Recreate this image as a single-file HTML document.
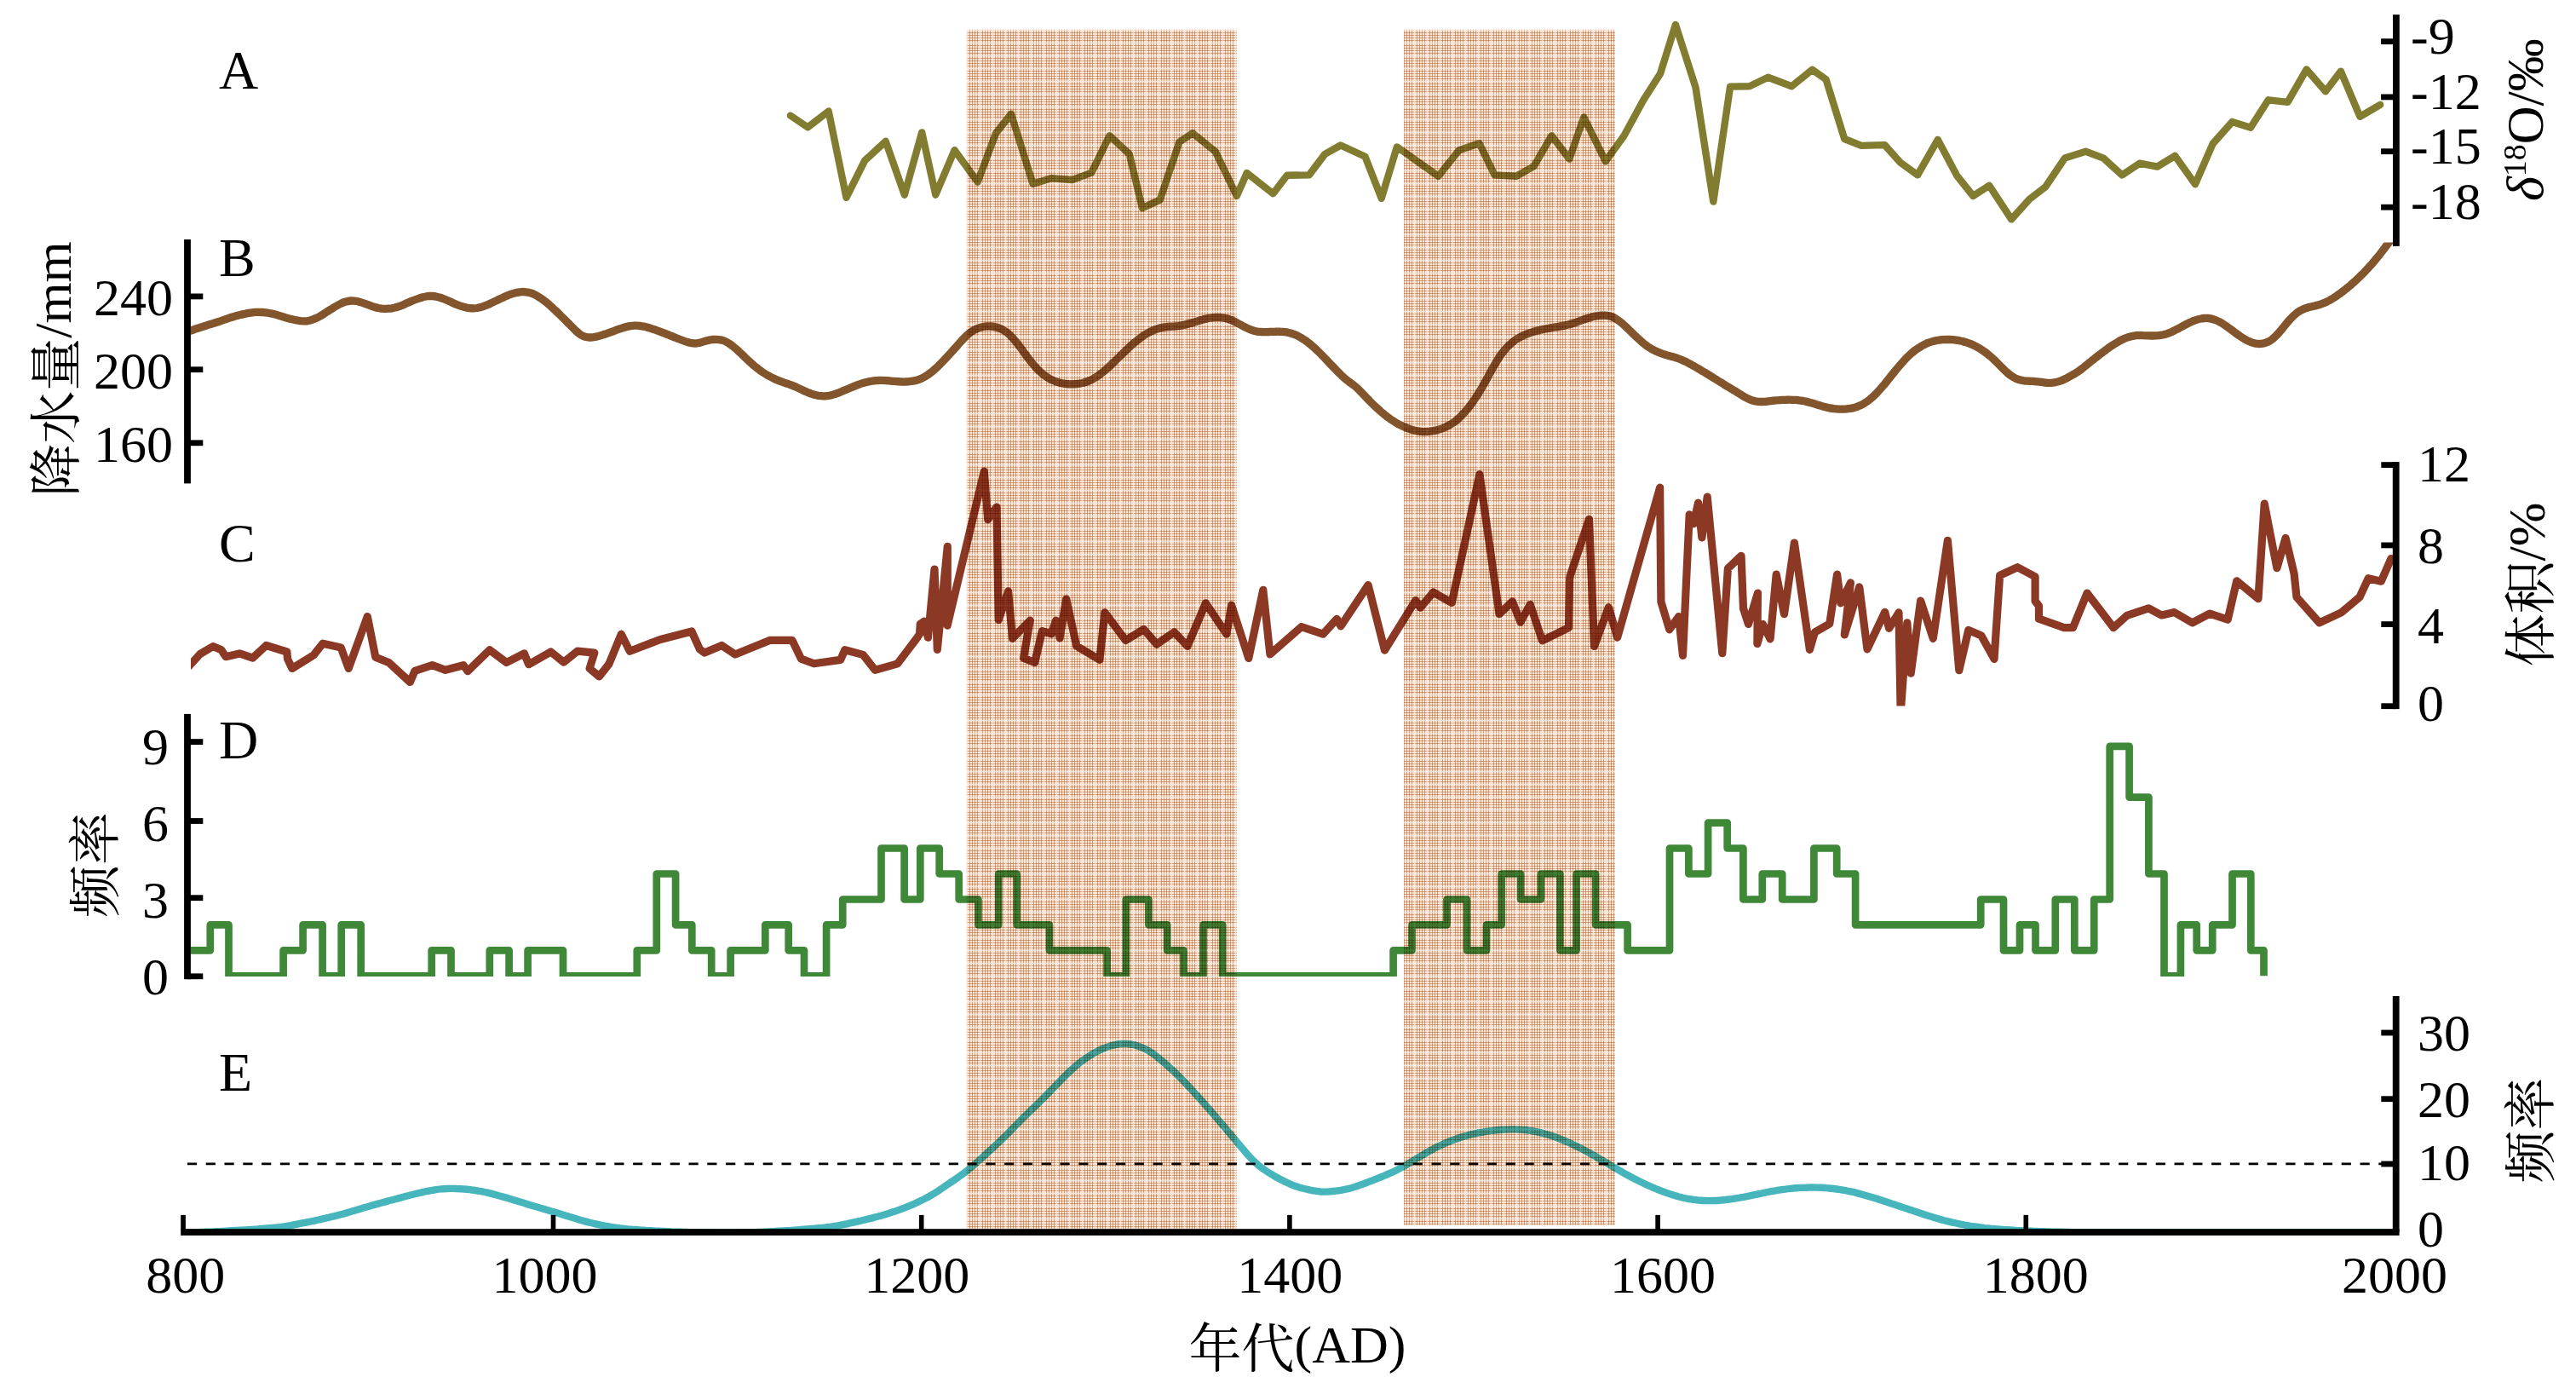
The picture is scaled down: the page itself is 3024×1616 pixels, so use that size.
<!DOCTYPE html>
<html lang="zh"><head><meta charset="utf-8"><title>chart</title>
<style>
html,body{margin:0;padding:0;background:#fff;}
body{width:3024px;height:1616px;overflow:hidden;}
svg{display:block;}
text{font-family:"Liberation Serif","Noto Serif CJK SC",serif;font-size:62px;fill:#000;}
.cj{font-family:"Liberation Serif","Noto Serif CJK SC",serif;}
</style></head><body>
<svg xmlns="http://www.w3.org/2000/svg" width="3024" height="1616" viewBox="0 0 3024 1616">
<defs>
<pattern id="hat" x="1135" y="35" width="15" height="15" patternUnits="userSpaceOnUse"><rect width="15" height="15" fill="#f5d3be"/><rect x="0" y="0" width="1" height="15" fill="#d8a07c"/><rect x="0" y="0" width="15" height="1" fill="#d8a07c"/><rect x="3" y="0" width="1" height="15" fill="#d8a07c"/><rect x="0" y="3" width="15" height="1" fill="#d8a07c"/><rect x="6" y="0" width="1" height="15" fill="#d8a07c"/><rect x="0" y="6" width="15" height="1" fill="#d8a07c"/><rect x="9" y="0" width="1" height="15" fill="#d8a07c"/><rect x="0" y="9" width="15" height="1" fill="#d8a07c"/><rect x="12" y="0" width="1" height="15" fill="#d8a07c"/><rect x="0" y="12" width="15" height="1" fill="#d8a07c"/><rect x="0" y="0" width="1" height="1" fill="#b87a50"/><rect x="1.25" y="1.25" width="1.5" height="1.5" fill="#fff8e8"/><rect x="0" y="3" width="1" height="1" fill="#b87a50"/><rect x="1.25" y="4.25" width="1.5" height="1.5" fill="#fff8e8"/><rect x="0" y="6" width="1" height="1" fill="#b87a50"/><rect x="1.25" y="7.25" width="1.5" height="1.5" fill="#fff8e8"/><rect x="0" y="9" width="1" height="1" fill="#b87a50"/><rect x="1.25" y="10.25" width="1.5" height="1.5" fill="#fff8e8"/><rect x="0" y="12" width="1" height="1" fill="#b87a50"/><rect x="1.25" y="13.25" width="1.5" height="1.5" fill="#fff8e8"/><rect x="3" y="0" width="1" height="1" fill="#b87a50"/><rect x="4.25" y="1.25" width="1.5" height="1.5" fill="#fff8e8"/><rect x="3" y="3" width="1" height="1" fill="#b87a50"/><rect x="4.25" y="4.25" width="1.5" height="1.5" fill="#fff8e8"/><rect x="3" y="6" width="1" height="1" fill="#b87a50"/><rect x="4.25" y="7.25" width="1.5" height="1.5" fill="#fff8e8"/><rect x="3" y="9" width="1" height="1" fill="#b87a50"/><rect x="4.25" y="10.25" width="1.5" height="1.5" fill="#fff8e8"/><rect x="3" y="12" width="1" height="1" fill="#b87a50"/><rect x="4.25" y="13.25" width="1.5" height="1.5" fill="#fff8e8"/><rect x="6" y="0" width="1" height="1" fill="#b87a50"/><rect x="7.25" y="1.25" width="1.5" height="1.5" fill="#fff8e8"/><rect x="6" y="3" width="1" height="1" fill="#b87a50"/><rect x="7.25" y="4.25" width="1.5" height="1.5" fill="#fff8e8"/><rect x="6" y="6" width="1" height="1" fill="#b87a50"/><rect x="7.25" y="7.25" width="1.5" height="1.5" fill="#fff8e8"/><rect x="6" y="9" width="1" height="1" fill="#b87a50"/><rect x="7.25" y="10.25" width="1.5" height="1.5" fill="#fff8e8"/><rect x="6" y="12" width="1" height="1" fill="#b87a50"/><rect x="7.25" y="13.25" width="1.5" height="1.5" fill="#fff8e8"/><rect x="9" y="0" width="1" height="1" fill="#b87a50"/><rect x="10.25" y="1.25" width="1.5" height="1.5" fill="#fff8e8"/><rect x="9" y="3" width="1" height="1" fill="#b87a50"/><rect x="10.25" y="4.25" width="1.5" height="1.5" fill="#fff8e8"/><rect x="9" y="6" width="1" height="1" fill="#b87a50"/><rect x="10.25" y="7.25" width="1.5" height="1.5" fill="#fff8e8"/><rect x="9" y="9" width="1" height="1" fill="#b87a50"/><rect x="10.25" y="10.25" width="1.5" height="1.5" fill="#fff8e8"/><rect x="9" y="12" width="1" height="1" fill="#b87a50"/><rect x="10.25" y="13.25" width="1.5" height="1.5" fill="#fff8e8"/><rect x="12" y="0" width="1" height="1" fill="#b87a50"/><rect x="13.25" y="1.25" width="1.5" height="1.5" fill="#fff8e8"/><rect x="12" y="3" width="1" height="1" fill="#b87a50"/><rect x="13.25" y="4.25" width="1.5" height="1.5" fill="#fff8e8"/><rect x="12" y="6" width="1" height="1" fill="#b87a50"/><rect x="13.25" y="7.25" width="1.5" height="1.5" fill="#fff8e8"/><rect x="12" y="9" width="1" height="1" fill="#b87a50"/><rect x="13.25" y="10.25" width="1.5" height="1.5" fill="#fff8e8"/><rect x="12" y="12" width="1" height="1" fill="#b87a50"/><rect x="13.25" y="13.25" width="1.5" height="1.5" fill="#fff8e8"/><rect x="0" y="0" width="1" height="15" fill="#fff" opacity="0.75"/><rect x="0" y="0" width="15" height="1" fill="#fff" opacity="0.75"/></pattern>
<clipPath id="clipB"><rect x="224" y="284.5" width="2585" height="300"/></clipPath>
<clipPath id="clipC"><rect x="224" y="540" width="2585" height="288.6"/></clipPath>
<clipPath id="clipD"><rect x="224" y="850" width="2585" height="296"/></clipPath>
<clipPath id="clipE"><rect x="218" y="1180" width="2591" height="266"/></clipPath>
</defs>
<rect width="3024" height="1616" fill="#fff"/>

<polyline points="927.9,135.6 948.2,149.4 972.7,130.5 993.5,231.9 1015.2,188.4 1039.7,165.8 1061.8,228.7 1082.2,155.4 1098.3,228.7 1120.6,176.2 1147.7,213.6 1169.1,156.3 1187.0,133.7 1212.5,215.8 1234.2,209.2 1258.8,211.1 1281.4,202.6 1302.6,159.2 1325.8,180.9 1340.9,244.1 1361.7,234.7 1384.4,166.7 1400.0,156.3 1426.9,178.1 1451.8,230.0 1463.7,203.0 1494.5,227.2 1510.9,205.8 1536.8,205.4 1555.3,180.9 1573.8,170.5 1602.5,183.7 1621.7,232.8 1639.9,172.4 1688.4,206.8 1712.9,176.2 1736.5,168.2 1754.5,205.4 1780.0,206.8 1800.7,195.1 1821.5,159.2 1842.3,186.6 1859.3,137.5 1884.8,189.4 1906.5,159.2 1929.2,117.6 1949.0,86.5 1966.9,28.9 1990.5,102.5 2011.3,236.6 2031.1,101.6 2053.8,101.2 2075.5,90.8 2103.3,101.2 2127.4,81.8 2143.5,93.1 2165.2,163.0 2185.0,170.9 2212.4,170.1 2230.4,190.3 2251.1,205.4 2274.8,163.9 2297.4,206.4 2316.3,230.0 2335.2,217.7 2361.2,257.4 2382.4,233.8 2401.3,219.2 2423.9,185.6 2448.5,177.7 2469.3,185.6 2491.0,205.4 2511.7,191.7 2532.5,195.6 2553.3,182.8 2576.9,216.2 2597.7,168.6 2620.3,143.1 2642.0,149.7 2662.8,117.3 2685.5,119.9 2707.7,81.4 2730.0,107.2 2747.9,83.6 2770.4,136.9 2794.2,122.9" fill="none" stroke="#827c30" stroke-width="8.4" stroke-linejoin="round" stroke-linecap="round"/>
<g clip-path="url(#clipB)"><path d="M224.0,388.0C224.7,387.8 226.7,387.1 228.0,386.6C229.3,386.2 230.7,385.7 232.0,385.3C233.3,384.8 234.7,384.4 236.0,384.0C237.3,383.5 238.7,383.1 240.0,382.7C241.3,382.3 242.7,381.8 244.0,381.4C245.3,381.0 246.7,380.6 248.0,380.2C249.3,379.8 250.7,379.4 252.0,379.0C253.3,378.6 254.7,378.1 256.0,377.7C257.3,377.3 258.7,376.8 260.0,376.4C261.3,375.9 262.7,375.5 264.0,375.0C265.3,374.6 266.7,374.1 268.0,373.6C269.3,373.2 270.7,372.7 272.0,372.3C273.3,371.9 274.7,371.5 276.0,371.1C277.3,370.7 278.7,370.4 280.0,370.0C281.3,369.7 282.7,369.4 284.0,369.1C285.3,368.8 286.7,368.5 288.0,368.2C289.3,367.9 290.7,367.6 292.0,367.4C293.3,367.2 294.7,367.0 296.0,366.8C297.3,366.6 298.7,366.5 300.0,366.4C301.3,366.4 302.7,366.3 304.0,366.3C305.3,366.3 306.7,366.4 308.0,366.5C309.3,366.6 310.7,366.8 312.0,366.9C313.3,367.1 314.7,367.3 316.0,367.5C317.3,367.8 318.7,368.0 320.0,368.3C321.3,368.6 322.7,369.0 324.0,369.3C325.3,369.7 326.7,370.1 328.0,370.5C329.3,370.9 330.7,371.3 332.0,371.7C333.3,372.2 334.7,372.6 336.0,373.0C337.3,373.3 338.7,373.7 340.0,374.1C341.3,374.4 342.7,374.7 344.0,375.0C345.3,375.3 346.7,375.6 348.0,375.8C349.3,376.1 350.7,376.4 352.0,376.5C353.3,376.7 354.7,376.9 356.0,376.9C357.3,377.0 358.7,376.9 360.0,376.8C361.3,376.6 362.7,376.3 364.0,376.0C365.3,375.6 366.7,375.2 368.0,374.7C369.3,374.2 370.7,373.6 372.0,373.0C373.3,372.4 374.7,371.7 376.0,370.9C377.3,370.2 378.7,369.3 380.0,368.5C381.3,367.6 382.7,366.7 384.0,365.8C385.3,365.0 386.7,364.1 388.0,363.3C389.3,362.4 390.7,361.6 392.0,360.8C393.3,360.0 394.7,359.2 396.0,358.5C397.3,357.8 398.7,357.0 400.0,356.4C401.3,355.8 402.7,355.2 404.0,354.7C405.3,354.2 406.7,353.8 408.0,353.6C409.3,353.3 410.7,353.1 412.0,353.0C413.3,353.0 414.7,353.0 416.0,353.2C417.3,353.3 418.7,353.5 420.0,353.8C421.3,354.1 422.7,354.5 424.0,354.9C425.3,355.3 426.7,355.7 428.0,356.2C429.3,356.6 430.7,357.2 432.0,357.7C433.3,358.2 434.7,358.7 436.0,359.2C437.3,359.6 438.7,360.1 440.0,360.5C441.3,360.9 442.7,361.2 444.0,361.5C445.3,361.7 446.7,361.9 448.0,362.1C449.3,362.2 450.7,362.3 452.0,362.3C453.3,362.4 454.7,362.3 456.0,362.2C457.3,362.1 458.7,362.0 460.0,361.8C461.3,361.5 462.7,361.3 464.0,360.9C465.3,360.6 466.7,360.2 468.0,359.8C469.3,359.4 470.7,358.8 472.0,358.3C473.3,357.7 474.7,357.1 476.0,356.5C477.3,355.9 478.7,355.3 480.0,354.7C481.3,354.1 482.7,353.6 484.0,353.0C485.3,352.5 486.7,352.0 488.0,351.5C489.3,351.0 490.7,350.5 492.0,350.1C493.3,349.6 494.7,349.2 496.0,348.9C497.3,348.5 498.7,348.2 500.0,348.0C501.3,347.7 502.7,347.5 504.0,347.4C505.3,347.4 506.7,347.4 508.0,347.5C509.3,347.6 510.7,347.8 512.0,348.1C513.3,348.3 514.7,348.7 516.0,349.1C517.3,349.4 518.7,349.9 520.0,350.4C521.3,350.9 522.7,351.4 524.0,352.0C525.3,352.5 526.7,353.2 528.0,353.8C529.3,354.4 530.7,355.1 532.0,355.7C533.3,356.3 534.7,356.9 536.0,357.4C537.3,358.0 538.7,358.4 540.0,358.9C541.3,359.3 542.7,359.7 544.0,360.1C545.3,360.5 546.7,360.8 548.0,361.1C549.3,361.3 550.7,361.6 552.0,361.7C553.3,361.9 554.7,361.9 556.0,361.9C557.3,361.9 558.7,361.7 560.0,361.5C561.3,361.2 562.7,360.9 564.0,360.6C565.3,360.2 566.7,359.8 568.0,359.3C569.3,358.9 570.7,358.3 572.0,357.8C573.3,357.2 574.7,356.6 576.0,356.0C577.3,355.3 578.7,354.7 580.0,354.1C581.3,353.5 582.7,352.8 584.0,352.2C585.3,351.6 586.7,350.9 588.0,350.3C589.3,349.7 590.7,349.1 592.0,348.5C593.3,347.9 594.7,347.3 596.0,346.7C597.3,346.2 598.7,345.6 600.0,345.2C601.3,344.7 602.7,344.3 604.0,344.0C605.3,343.6 606.7,343.4 608.0,343.1C609.3,342.9 610.7,342.7 612.0,342.6C613.3,342.5 614.7,342.5 616.0,342.6C617.3,342.7 618.7,342.9 620.0,343.1C621.3,343.4 622.7,343.7 624.0,344.2C625.3,344.7 626.7,345.3 628.0,345.9C629.3,346.6 630.7,347.4 632.0,348.2C633.3,349.0 634.7,349.8 636.0,350.8C637.3,351.7 638.7,352.6 640.0,353.7C641.3,354.7 642.7,355.9 644.0,357.0C645.3,358.2 646.7,359.4 648.0,360.7C649.3,361.9 650.7,363.2 652.0,364.4C653.3,365.7 654.7,367.0 656.0,368.2C657.3,369.5 658.7,370.8 660.0,372.2C661.3,373.5 662.7,374.8 664.0,376.1C665.3,377.5 666.7,378.8 668.0,380.1C669.3,381.5 670.7,382.9 672.0,384.2C673.3,385.6 674.7,387.0 676.0,388.2C677.3,389.4 678.7,390.7 680.0,391.6C681.3,392.6 682.7,393.5 684.0,394.1C685.3,394.8 686.7,395.2 688.0,395.5C689.3,395.8 690.7,395.9 692.0,396.0C693.3,396.0 694.7,395.9 696.0,395.8C697.3,395.6 698.7,395.4 700.0,395.1C701.3,394.8 702.7,394.5 704.0,394.1C705.3,393.7 706.7,393.3 708.0,392.9C709.3,392.5 710.7,392.0 712.0,391.6C713.3,391.2 714.7,390.7 716.0,390.2C717.3,389.7 718.7,389.2 720.0,388.8C721.3,388.3 722.7,387.7 724.0,387.2C725.3,386.7 726.7,386.2 728.0,385.8C729.3,385.3 730.7,384.9 732.0,384.5C733.3,384.1 734.7,383.7 736.0,383.4C737.3,383.1 738.7,382.8 740.0,382.6C741.3,382.4 742.7,382.2 744.0,382.2C745.3,382.1 746.7,382.1 748.0,382.1C749.3,382.2 750.7,382.4 752.0,382.5C753.3,382.7 754.7,383.0 756.0,383.2C757.3,383.5 758.7,383.8 760.0,384.2C761.3,384.6 762.7,385.0 764.0,385.4C765.3,385.8 766.7,386.3 768.0,386.7C769.3,387.2 770.7,387.7 772.0,388.1C773.3,388.6 774.7,389.1 776.0,389.6C777.3,390.1 778.7,390.6 780.0,391.1C781.3,391.6 782.7,392.2 784.0,392.7C785.3,393.2 786.7,393.8 788.0,394.3C789.3,394.8 790.7,395.4 792.0,395.9C793.3,396.4 794.7,396.9 796.0,397.5C797.3,398.0 798.7,398.5 800.0,399.0C801.3,399.5 802.7,400.0 804.0,400.5C805.3,401.0 806.7,401.4 808.0,401.8C809.3,402.2 810.7,402.5 812.0,402.7C813.3,402.9 814.7,403.0 816.0,403.0C817.3,403.0 818.7,402.8 820.0,402.5C821.3,402.3 822.7,401.8 824.0,401.5C825.3,401.1 826.7,400.7 828.0,400.3C829.3,399.9 830.7,399.5 832.0,399.2C833.3,399.0 834.7,398.7 836.0,398.5C837.3,398.4 838.7,398.3 840.0,398.3C841.3,398.3 842.7,398.4 844.0,398.6C845.3,398.7 846.7,399.0 848.0,399.4C849.3,399.8 850.7,400.3 852.0,400.9C853.3,401.6 854.7,402.3 856.0,403.2C857.3,404.0 858.7,405.0 860.0,406.1C861.3,407.1 862.7,408.2 864.0,409.4C865.3,410.6 866.7,411.8 868.0,413.1C869.3,414.3 870.7,415.6 872.0,416.9C873.3,418.2 874.7,419.5 876.0,420.8C877.3,422.0 878.7,423.3 880.0,424.5C881.3,425.7 882.7,426.9 884.0,428.1C885.3,429.2 886.7,430.3 888.0,431.4C889.3,432.5 890.7,433.5 892.0,434.5C893.3,435.5 894.7,436.4 896.0,437.3C897.3,438.2 898.7,439.0 900.0,439.8C901.3,440.6 902.7,441.3 904.0,442.0C905.3,442.7 906.7,443.4 908.0,444.0C909.3,444.6 910.7,445.2 912.0,445.8C913.3,446.3 914.7,446.9 916.0,447.4C917.3,447.9 918.7,448.4 920.0,448.9C921.3,449.3 922.7,449.8 924.0,450.2C925.3,450.7 926.7,451.1 928.0,451.6C929.3,452.1 930.7,452.6 932.0,453.2C933.3,453.7 934.7,454.3 936.0,454.9C937.3,455.5 938.7,456.2 940.0,456.8C941.3,457.4 942.7,458.1 944.0,458.7C945.3,459.3 946.7,459.9 948.0,460.5C949.3,461.0 950.7,461.6 952.0,462.0C953.3,462.5 954.7,462.9 956.0,463.3C957.3,463.7 958.7,464.0 960.0,464.2C961.3,464.5 962.7,464.6 964.0,464.7C965.3,464.8 966.7,464.9 968.0,464.8C969.3,464.8 970.7,464.6 972.0,464.5C973.3,464.3 974.7,464.0 976.0,463.7C977.3,463.4 978.7,463.0 980.0,462.5C981.3,462.1 982.7,461.6 984.0,461.1C985.3,460.6 986.7,460.1 988.0,459.5C989.3,459.0 990.7,458.4 992.0,457.8C993.3,457.2 994.7,456.7 996.0,456.1C997.3,455.5 998.7,455.0 1000.0,454.4C1001.3,453.9 1002.7,453.3 1004.0,452.8C1005.3,452.3 1006.7,451.7 1008.0,451.3C1009.3,450.8 1010.7,450.3 1012.0,449.9C1013.3,449.5 1014.7,449.1 1016.0,448.8C1017.3,448.4 1018.7,448.1 1020.0,447.9C1021.3,447.6 1022.7,447.4 1024.0,447.2C1025.3,447.0 1026.7,446.8 1028.0,446.7C1029.3,446.6 1030.7,446.5 1032.0,446.4C1033.3,446.4 1034.7,446.4 1036.0,446.4C1037.3,446.4 1038.7,446.5 1040.0,446.6C1041.3,446.7 1042.7,446.8 1044.0,446.9C1045.3,447.0 1046.7,447.2 1048.0,447.3C1049.3,447.4 1050.7,447.5 1052.0,447.6C1053.3,447.7 1054.7,447.8 1056.0,447.9C1057.3,448.0 1058.7,448.0 1060.0,448.1C1061.3,448.1 1062.7,448.1 1064.0,448.0C1065.3,448.0 1066.7,447.9 1068.0,447.7C1069.3,447.6 1070.7,447.4 1072.0,447.2C1073.3,446.9 1074.7,446.6 1076.0,446.2C1077.3,445.9 1078.7,445.4 1080.0,444.9C1081.3,444.3 1082.7,443.7 1084.0,443.0C1085.3,442.3 1086.7,441.5 1088.0,440.6C1089.3,439.8 1090.7,438.8 1092.0,437.8C1093.3,436.8 1094.7,435.7 1096.0,434.6C1097.3,433.4 1098.7,432.2 1100.0,431.0C1101.3,429.7 1102.7,428.4 1104.0,427.0C1105.3,425.7 1106.7,424.2 1108.0,422.8C1109.3,421.4 1110.7,420.0 1112.0,418.6C1113.3,417.1 1114.7,415.7 1116.0,414.3C1117.3,412.8 1118.7,411.4 1120.0,409.9C1121.3,408.4 1122.7,406.9 1124.0,405.4C1125.3,403.9 1126.7,402.3 1128.0,400.9C1129.3,399.4 1130.7,397.9 1132.0,396.5C1133.3,395.2 1134.7,393.9 1136.0,392.7C1137.3,391.6 1138.7,390.5 1140.0,389.6C1141.3,388.6 1142.7,387.8 1144.0,387.1C1145.3,386.4 1146.7,385.8 1148.0,385.3C1149.3,384.7 1150.7,384.3 1152.0,384.0C1153.3,383.6 1154.7,383.4 1156.0,383.2C1157.3,383.0 1158.7,382.9 1160.0,382.9C1161.3,382.9 1162.7,382.9 1164.0,383.0C1165.3,383.1 1166.7,383.3 1168.0,383.6C1169.3,383.9 1170.7,384.2 1172.0,384.7C1173.3,385.2 1174.7,385.7 1176.0,386.4C1177.3,387.1 1178.7,387.9 1180.0,388.8C1181.3,389.7 1182.7,390.7 1184.0,391.9C1185.3,393.1 1186.7,394.4 1188.0,395.8C1189.3,397.2 1190.7,398.7 1192.0,400.4C1193.3,402.0 1194.7,403.7 1196.0,405.4C1197.3,407.1 1198.7,409.0 1200.0,410.8C1201.3,412.6 1202.7,414.4 1204.0,416.2C1205.3,418.0 1206.7,419.8 1208.0,421.6C1209.3,423.3 1210.7,425.0 1212.0,426.6C1213.3,428.2 1214.7,429.7 1216.0,431.2C1217.3,432.7 1218.7,434.0 1220.0,435.3C1221.3,436.6 1222.7,437.8 1224.0,438.9C1225.3,439.9 1226.7,440.9 1228.0,441.9C1229.3,442.8 1230.7,443.6 1232.0,444.4C1233.3,445.1 1234.7,445.8 1236.0,446.4C1237.3,447.0 1238.7,447.5 1240.0,448.0C1241.3,448.5 1242.7,448.8 1244.0,449.2C1245.3,449.5 1246.7,449.8 1248.0,450.0C1249.3,450.3 1250.7,450.5 1252.0,450.6C1253.3,450.7 1254.7,450.8 1256.0,450.9C1257.3,450.9 1258.7,450.9 1260.0,450.9C1261.3,450.8 1262.7,450.7 1264.0,450.6C1265.3,450.4 1266.7,450.3 1268.0,450.0C1269.3,449.8 1270.7,449.5 1272.0,449.1C1273.3,448.8 1274.7,448.4 1276.0,447.9C1277.3,447.4 1278.7,446.8 1280.0,446.2C1281.3,445.6 1282.7,444.9 1284.0,444.1C1285.3,443.3 1286.7,442.5 1288.0,441.6C1289.3,440.7 1290.7,439.8 1292.0,438.8C1293.3,437.8 1294.7,436.8 1296.0,435.6C1297.3,434.5 1298.7,433.3 1300.0,432.1C1301.3,430.9 1302.7,429.7 1304.0,428.4C1305.3,427.2 1306.7,425.9 1308.0,424.6C1309.3,423.3 1310.7,422.0 1312.0,420.7C1313.3,419.4 1314.7,418.1 1316.0,416.8C1317.3,415.5 1318.7,414.2 1320.0,412.9C1321.3,411.6 1322.7,410.4 1324.0,409.1C1325.3,407.9 1326.7,406.6 1328.0,405.4C1329.3,404.2 1330.7,403.0 1332.0,401.9C1333.3,400.8 1334.7,399.7 1336.0,398.6C1337.3,397.6 1338.7,396.6 1340.0,395.7C1341.3,394.7 1342.7,393.8 1344.0,392.9C1345.3,392.1 1346.7,391.3 1348.0,390.5C1349.3,389.8 1350.7,389.1 1352.0,388.5C1353.3,387.9 1354.7,387.3 1356.0,386.8C1357.3,386.3 1358.7,385.9 1360.0,385.5C1361.3,385.1 1362.7,384.8 1364.0,384.5C1365.3,384.2 1366.7,384.0 1368.0,383.8C1369.3,383.6 1370.7,383.5 1372.0,383.4C1373.3,383.3 1374.7,383.2 1376.0,383.1C1377.3,383.1 1378.7,383.0 1380.0,382.9C1381.3,382.8 1382.7,382.7 1384.0,382.5C1385.3,382.3 1386.7,382.1 1388.0,381.8C1389.3,381.5 1390.7,381.2 1392.0,380.9C1393.3,380.6 1394.7,380.2 1396.0,379.8C1397.3,379.5 1398.7,379.1 1400.0,378.7C1401.3,378.3 1402.7,377.9 1404.0,377.5C1405.3,377.1 1406.7,376.7 1408.0,376.3C1409.3,375.9 1410.7,375.5 1412.0,375.1C1413.3,374.8 1414.7,374.4 1416.0,374.1C1417.3,373.7 1418.7,373.4 1420.0,373.2C1421.3,372.9 1422.7,372.7 1424.0,372.6C1425.3,372.4 1426.7,372.3 1428.0,372.3C1429.3,372.3 1430.7,372.3 1432.0,372.4C1433.3,372.5 1434.7,372.7 1436.0,372.9C1437.3,373.2 1438.7,373.4 1440.0,373.8C1441.3,374.2 1442.7,374.6 1444.0,375.1C1445.3,375.6 1446.7,376.2 1448.0,376.8C1449.3,377.4 1450.7,378.1 1452.0,378.8C1453.3,379.5 1454.7,380.2 1456.0,380.9C1457.3,381.6 1458.7,382.4 1460.0,383.1C1461.3,383.8 1462.7,384.5 1464.0,385.1C1465.3,385.7 1466.7,386.3 1468.0,386.8C1469.3,387.4 1470.7,387.8 1472.0,388.2C1473.3,388.6 1474.7,388.9 1476.0,389.1C1477.3,389.3 1478.7,389.4 1480.0,389.5C1481.3,389.6 1482.7,389.6 1484.0,389.6C1485.3,389.6 1486.7,389.6 1488.0,389.6C1489.3,389.5 1490.7,389.5 1492.0,389.4C1493.3,389.4 1494.7,389.3 1496.0,389.3C1497.3,389.3 1498.7,389.2 1500.0,389.2C1501.3,389.2 1502.7,389.3 1504.0,389.3C1505.3,389.4 1506.7,389.5 1508.0,389.6C1509.3,389.8 1510.7,390.0 1512.0,390.3C1513.3,390.5 1514.7,390.9 1516.0,391.3C1517.3,391.7 1518.7,392.1 1520.0,392.7C1521.3,393.2 1522.7,393.8 1524.0,394.5C1525.3,395.2 1526.7,395.9 1528.0,396.7C1529.3,397.5 1530.7,398.4 1532.0,399.3C1533.3,400.3 1534.7,401.3 1536.0,402.3C1537.3,403.3 1538.7,404.4 1540.0,405.6C1541.3,406.7 1542.7,407.9 1544.0,409.1C1545.3,410.4 1546.7,411.7 1548.0,413.0C1549.3,414.3 1550.7,415.6 1552.0,417.0C1553.3,418.3 1554.7,419.7 1556.0,421.1C1557.3,422.5 1558.7,423.9 1560.0,425.3C1561.3,426.7 1562.7,428.1 1564.0,429.5C1565.3,430.9 1566.7,432.3 1568.0,433.7C1569.3,435.1 1570.7,436.4 1572.0,437.8C1573.3,439.1 1574.7,440.4 1576.0,441.7C1577.3,442.9 1578.7,444.1 1580.0,445.2C1581.3,446.3 1582.7,447.3 1584.0,448.3C1585.3,449.3 1586.7,450.2 1588.0,451.2C1589.3,452.2 1590.7,453.2 1592.0,454.4C1593.3,455.6 1594.7,456.9 1596.0,458.2C1597.3,459.5 1598.7,461.0 1600.0,462.4C1601.3,463.8 1602.7,465.2 1604.0,466.6C1605.3,468.0 1606.7,469.3 1608.0,470.7C1609.3,472.0 1610.7,473.4 1612.0,474.7C1613.3,476.0 1614.7,477.3 1616.0,478.5C1617.3,479.7 1618.7,480.9 1620.0,482.1C1621.3,483.3 1622.7,484.4 1624.0,485.5C1625.3,486.6 1626.7,487.7 1628.0,488.7C1629.3,489.8 1630.7,490.7 1632.0,491.7C1633.3,492.6 1634.7,493.5 1636.0,494.3C1637.3,495.2 1638.7,496.0 1640.0,496.8C1641.3,497.5 1642.7,498.3 1644.0,498.9C1645.3,499.6 1646.7,500.2 1648.0,500.8C1649.3,501.4 1650.7,502.0 1652.0,502.5C1653.3,503.0 1654.7,503.4 1656.0,503.9C1657.3,504.3 1658.7,504.6 1660.0,505.0C1661.3,505.3 1662.7,505.6 1664.0,505.8C1665.3,506.1 1666.7,506.3 1668.0,506.4C1669.3,506.5 1670.7,506.6 1672.0,506.6C1673.3,506.6 1674.7,506.6 1676.0,506.5C1677.3,506.4 1678.7,506.2 1680.0,506.0C1681.3,505.9 1682.7,505.6 1684.0,505.3C1685.3,505.1 1686.7,504.7 1688.0,504.4C1689.3,504.0 1690.7,503.6 1692.0,503.1C1693.3,502.7 1694.7,502.2 1696.0,501.6C1697.3,501.0 1698.7,500.4 1700.0,499.7C1701.3,499.0 1702.7,498.2 1704.0,497.4C1705.3,496.6 1706.7,495.6 1708.0,494.6C1709.3,493.6 1710.7,492.5 1712.0,491.3C1713.3,490.1 1714.7,488.8 1716.0,487.4C1717.3,486.0 1718.7,484.6 1720.0,483.1C1721.3,481.5 1722.7,479.9 1724.0,478.3C1725.3,476.6 1726.7,474.8 1728.0,473.0C1729.3,471.1 1730.7,469.2 1732.0,467.2C1733.3,465.2 1734.7,463.2 1736.0,461.0C1737.3,458.9 1738.7,456.6 1740.0,454.3C1741.3,452.0 1742.7,449.7 1744.0,447.2C1745.3,444.8 1746.7,442.4 1748.0,439.9C1749.3,437.5 1750.7,435.0 1752.0,432.6C1753.3,430.3 1754.7,427.9 1756.0,425.7C1757.3,423.4 1758.7,421.3 1760.0,419.3C1761.3,417.3 1762.7,415.4 1764.0,413.6C1765.3,411.9 1766.7,410.3 1768.0,408.8C1769.3,407.3 1770.7,405.9 1772.0,404.7C1773.3,403.4 1774.7,402.3 1776.0,401.2C1777.3,400.2 1778.7,399.2 1780.0,398.3C1781.3,397.4 1782.7,396.6 1784.0,395.9C1785.3,395.2 1786.7,394.5 1788.0,393.9C1789.3,393.3 1790.7,392.7 1792.0,392.1C1793.3,391.6 1794.7,391.1 1796.0,390.7C1797.3,390.2 1798.7,389.8 1800.0,389.4C1801.3,389.0 1802.7,388.7 1804.0,388.3C1805.3,388.0 1806.7,387.6 1808.0,387.3C1809.3,387.0 1810.7,386.7 1812.0,386.4C1813.3,386.1 1814.7,385.9 1816.0,385.6C1817.3,385.4 1818.7,385.1 1820.0,384.9C1821.3,384.6 1822.7,384.4 1824.0,384.2C1825.3,384.0 1826.7,383.8 1828.0,383.6C1829.3,383.4 1830.7,383.2 1832.0,382.9C1833.3,382.7 1834.7,382.4 1836.0,382.1C1837.3,381.9 1838.7,381.6 1840.0,381.2C1841.3,380.9 1842.7,380.6 1844.0,380.2C1845.3,379.8 1846.7,379.4 1848.0,379.0C1849.3,378.6 1850.7,378.1 1852.0,377.6C1853.3,377.2 1854.7,376.7 1856.0,376.2C1857.3,375.7 1858.7,375.2 1860.0,374.7C1861.3,374.3 1862.7,373.8 1864.0,373.4C1865.3,372.9 1866.7,372.5 1868.0,372.2C1869.3,371.8 1870.7,371.5 1872.0,371.2C1873.3,370.9 1874.7,370.7 1876.0,370.6C1877.3,370.4 1878.7,370.3 1880.0,370.2C1881.3,370.2 1882.7,370.2 1884.0,370.2C1885.3,370.3 1886.7,370.4 1888.0,370.7C1889.3,370.9 1890.7,371.2 1892.0,371.7C1893.3,372.2 1894.7,372.8 1896.0,373.6C1897.3,374.3 1898.7,375.2 1900.0,376.2C1901.3,377.1 1902.7,378.2 1904.0,379.3C1905.3,380.4 1906.7,381.7 1908.0,382.9C1909.3,384.1 1910.7,385.4 1912.0,386.7C1913.3,388.0 1914.7,389.3 1916.0,390.6C1917.3,391.9 1918.7,393.2 1920.0,394.5C1921.3,395.7 1922.7,397.0 1924.0,398.2C1925.3,399.4 1926.7,400.6 1928.0,401.8C1929.3,402.9 1930.7,404.0 1932.0,405.0C1933.3,406.0 1934.7,406.9 1936.0,407.8C1937.3,408.6 1938.7,409.4 1940.0,410.2C1941.3,410.9 1942.7,411.6 1944.0,412.2C1945.3,412.9 1946.7,413.4 1948.0,413.9C1949.3,414.5 1950.7,414.9 1952.0,415.4C1953.3,415.8 1954.7,416.2 1956.0,416.6C1957.3,417.0 1958.7,417.3 1960.0,417.7C1961.3,418.0 1962.7,418.4 1964.0,418.8C1965.3,419.2 1966.7,419.6 1968.0,420.0C1969.3,420.5 1970.7,421.0 1972.0,421.5C1973.3,422.0 1974.7,422.6 1976.0,423.2C1977.3,423.8 1978.7,424.4 1980.0,425.0C1981.3,425.7 1982.7,426.4 1984.0,427.1C1985.3,427.8 1986.7,428.6 1988.0,429.3C1989.3,430.1 1990.7,430.8 1992.0,431.6C1993.3,432.4 1994.7,433.2 1996.0,434.0C1997.3,434.8 1998.7,435.6 2000.0,436.4C2001.3,437.2 2002.7,438.0 2004.0,438.8C2005.3,439.6 2006.7,440.5 2008.0,441.3C2009.3,442.1 2010.7,442.9 2012.0,443.7C2013.3,444.6 2014.7,445.4 2016.0,446.2C2017.3,447.1 2018.7,447.9 2020.0,448.7C2021.3,449.5 2022.7,450.3 2024.0,451.2C2025.3,452.0 2026.7,452.8 2028.0,453.6C2029.3,454.4 2030.7,455.2 2032.0,456.0C2033.3,456.8 2034.7,457.6 2036.0,458.4C2037.3,459.2 2038.7,460.0 2040.0,460.9C2041.3,461.7 2042.7,462.6 2044.0,463.4C2045.3,464.3 2046.7,465.1 2048.0,465.9C2049.3,466.6 2050.7,467.3 2052.0,467.9C2053.3,468.6 2054.7,469.1 2056.0,469.6C2057.3,470.1 2058.7,470.4 2060.0,470.7C2061.3,471.0 2062.7,471.2 2064.0,471.4C2065.3,471.5 2066.7,471.5 2068.0,471.5C2069.3,471.5 2070.7,471.5 2072.0,471.4C2073.3,471.3 2074.7,471.1 2076.0,471.0C2077.3,470.8 2078.7,470.6 2080.0,470.4C2081.3,470.3 2082.7,470.1 2084.0,470.0C2085.3,469.8 2086.7,469.7 2088.0,469.7C2089.3,469.6 2090.7,469.5 2092.0,469.4C2093.3,469.4 2094.7,469.3 2096.0,469.3C2097.3,469.3 2098.7,469.2 2100.0,469.2C2101.3,469.2 2102.7,469.2 2104.0,469.3C2105.3,469.3 2106.7,469.3 2108.0,469.4C2109.3,469.5 2110.7,469.6 2112.0,469.8C2113.3,469.9 2114.7,470.1 2116.0,470.3C2117.3,470.6 2118.7,470.8 2120.0,471.1C2121.3,471.4 2122.7,471.8 2124.0,472.2C2125.3,472.5 2126.7,472.9 2128.0,473.3C2129.3,473.7 2130.7,474.2 2132.0,474.6C2133.3,475.0 2134.7,475.4 2136.0,475.8C2137.3,476.2 2138.7,476.6 2140.0,477.0C2141.3,477.3 2142.7,477.7 2144.0,478.0C2145.3,478.4 2146.7,478.7 2148.0,478.9C2149.3,479.2 2150.7,479.4 2152.0,479.5C2153.3,479.7 2154.7,479.8 2156.0,479.9C2157.3,480.0 2158.7,480.1 2160.0,480.2C2161.3,480.2 2162.7,480.2 2164.0,480.1C2165.3,480.1 2166.7,480.0 2168.0,479.9C2169.3,479.8 2170.7,479.6 2172.0,479.4C2173.3,479.2 2174.7,478.9 2176.0,478.6C2177.3,478.2 2178.7,477.8 2180.0,477.3C2181.3,476.9 2182.7,476.4 2184.0,475.7C2185.3,475.1 2186.7,474.4 2188.0,473.6C2189.3,472.8 2190.7,471.9 2192.0,471.0C2193.3,470.0 2194.7,469.0 2196.0,467.8C2197.3,466.7 2198.7,465.5 2200.0,464.3C2201.3,463.0 2202.7,461.7 2204.0,460.2C2205.3,458.8 2206.7,457.3 2208.0,455.8C2209.3,454.3 2210.7,452.7 2212.0,451.2C2213.3,449.6 2214.7,447.9 2216.0,446.3C2217.3,444.6 2218.7,442.9 2220.0,441.3C2221.3,439.6 2222.7,437.9 2224.0,436.3C2225.3,434.6 2226.7,433.0 2228.0,431.4C2229.3,429.8 2230.7,428.2 2232.0,426.7C2233.3,425.2 2234.7,423.7 2236.0,422.3C2237.3,420.8 2238.7,419.4 2240.0,418.2C2241.3,416.9 2242.7,415.7 2244.0,414.5C2245.3,413.4 2246.7,412.3 2248.0,411.3C2249.3,410.3 2250.7,409.3 2252.0,408.5C2253.3,407.6 2254.7,406.8 2256.0,406.0C2257.3,405.3 2258.7,404.6 2260.0,403.9C2261.3,403.3 2262.7,402.7 2264.0,402.2C2265.3,401.7 2266.7,401.3 2268.0,400.9C2269.3,400.5 2270.7,400.2 2272.0,399.9C2273.3,399.6 2274.7,399.4 2276.0,399.2C2277.3,399.0 2278.7,398.8 2280.0,398.7C2281.3,398.6 2282.7,398.5 2284.0,398.5C2285.3,398.5 2286.7,398.5 2288.0,398.5C2289.3,398.5 2290.7,398.6 2292.0,398.7C2293.3,398.8 2294.7,398.9 2296.0,399.1C2297.3,399.3 2298.7,399.5 2300.0,399.7C2301.3,400.0 2302.7,400.2 2304.0,400.6C2305.3,400.9 2306.7,401.3 2308.0,401.7C2309.3,402.1 2310.7,402.6 2312.0,403.1C2313.3,403.6 2314.7,404.2 2316.0,404.8C2317.3,405.4 2318.7,406.0 2320.0,406.7C2321.3,407.5 2322.7,408.2 2324.0,409.0C2325.3,409.8 2326.7,410.7 2328.0,411.6C2329.3,412.5 2330.7,413.5 2332.0,414.5C2333.3,415.5 2334.7,416.6 2336.0,417.8C2337.3,418.9 2338.7,420.1 2340.0,421.3C2341.3,422.6 2342.7,423.8 2344.0,425.2C2345.3,426.5 2346.7,427.8 2348.0,429.2C2349.3,430.5 2350.7,431.9 2352.0,433.2C2353.3,434.5 2354.7,435.9 2356.0,437.0C2357.3,438.2 2358.7,439.3 2360.0,440.3C2361.3,441.3 2362.7,442.2 2364.0,442.9C2365.3,443.7 2366.7,444.3 2368.0,444.8C2369.3,445.3 2370.7,445.7 2372.0,446.0C2373.3,446.4 2374.7,446.6 2376.0,446.8C2377.3,447.0 2378.7,447.1 2380.0,447.2C2381.3,447.2 2382.7,447.3 2384.0,447.3C2385.3,447.4 2386.7,447.4 2388.0,447.5C2389.3,447.6 2390.7,447.7 2392.0,447.9C2393.3,448.0 2394.7,448.2 2396.0,448.4C2397.3,448.6 2398.7,448.8 2400.0,449.0C2401.3,449.1 2402.7,449.3 2404.0,449.3C2405.3,449.4 2406.7,449.4 2408.0,449.3C2409.3,449.2 2410.7,449.1 2412.0,448.8C2413.3,448.6 2414.7,448.3 2416.0,447.9C2417.3,447.5 2418.7,447.1 2420.0,446.6C2421.3,446.1 2422.7,445.4 2424.0,444.8C2425.3,444.2 2426.7,443.5 2428.0,442.7C2429.3,442.0 2430.7,441.3 2432.0,440.5C2433.3,439.8 2434.7,439.0 2436.0,438.2C2437.3,437.4 2438.7,436.5 2440.0,435.6C2441.3,434.7 2442.7,433.7 2444.0,432.7C2445.3,431.7 2446.7,430.6 2448.0,429.5C2449.3,428.4 2450.7,427.3 2452.0,426.2C2453.3,425.2 2454.7,424.1 2456.0,423.0C2457.3,422.0 2458.7,420.9 2460.0,419.9C2461.3,418.8 2462.7,417.8 2464.0,416.8C2465.3,415.7 2466.7,414.7 2468.0,413.7C2469.3,412.7 2470.7,411.7 2472.0,410.7C2473.3,409.7 2474.7,408.8 2476.0,407.8C2477.3,406.9 2478.7,406.0 2480.0,405.1C2481.3,404.2 2482.7,403.4 2484.0,402.6C2485.3,401.8 2486.7,401.0 2488.0,400.2C2489.3,399.5 2490.7,398.8 2492.0,398.2C2493.3,397.6 2494.7,397.0 2496.0,396.5C2497.3,396.0 2498.7,395.5 2500.0,395.2C2501.3,394.8 2502.7,394.5 2504.0,394.3C2505.3,394.0 2506.7,393.9 2508.0,393.7C2509.3,393.6 2510.7,393.6 2512.0,393.6C2513.3,393.6 2514.7,393.6 2516.0,393.7C2517.3,393.7 2518.7,393.8 2520.0,393.9C2521.3,393.9 2522.7,394.0 2524.0,394.0C2525.3,394.0 2526.7,394.0 2528.0,394.0C2529.3,393.9 2530.7,393.9 2532.0,393.8C2533.3,393.7 2534.7,393.6 2536.0,393.4C2537.3,393.2 2538.7,393.0 2540.0,392.7C2541.3,392.4 2542.7,392.0 2544.0,391.6C2545.3,391.1 2546.7,390.6 2548.0,390.1C2549.3,389.5 2550.7,388.9 2552.0,388.2C2553.3,387.6 2554.7,386.9 2556.0,386.2C2557.3,385.5 2558.7,384.7 2560.0,384.0C2561.3,383.3 2562.7,382.5 2564.0,381.8C2565.3,381.1 2566.7,380.4 2568.0,379.8C2569.3,379.1 2570.7,378.5 2572.0,377.9C2573.3,377.3 2574.7,376.7 2576.0,376.2C2577.3,375.7 2578.7,375.3 2580.0,374.9C2581.3,374.5 2582.7,374.2 2584.0,374.0C2585.3,373.7 2586.7,373.6 2588.0,373.5C2589.3,373.4 2590.7,373.4 2592.0,373.5C2593.3,373.6 2594.7,373.8 2596.0,374.1C2597.3,374.4 2598.7,374.8 2600.0,375.3C2601.3,375.8 2602.7,376.3 2604.0,377.0C2605.3,377.6 2606.7,378.3 2608.0,379.1C2609.3,379.9 2610.7,380.8 2612.0,381.7C2613.3,382.6 2614.7,383.6 2616.0,384.6C2617.3,385.5 2618.7,386.6 2620.0,387.5C2621.3,388.5 2622.7,389.5 2624.0,390.5C2625.3,391.5 2626.7,392.5 2628.0,393.4C2629.3,394.3 2630.7,395.2 2632.0,396.1C2633.3,396.9 2634.7,397.8 2636.0,398.5C2637.3,399.3 2638.7,400.0 2640.0,400.5C2641.3,401.1 2642.7,401.7 2644.0,402.1C2645.3,402.5 2646.7,402.8 2648.0,403.1C2649.3,403.3 2650.7,403.5 2652.0,403.5C2653.3,403.5 2654.7,403.5 2656.0,403.2C2657.3,403.0 2658.7,402.7 2660.0,402.2C2661.3,401.7 2662.7,401.1 2664.0,400.4C2665.3,399.6 2666.7,398.6 2668.0,397.6C2669.3,396.5 2670.7,395.3 2672.0,393.9C2673.3,392.6 2674.7,391.1 2676.0,389.5C2677.3,388.0 2678.7,386.3 2680.0,384.7C2681.3,383.0 2682.7,381.4 2684.0,379.8C2685.3,378.2 2686.7,376.6 2688.0,375.1C2689.3,373.7 2690.7,372.3 2692.0,371.0C2693.3,369.7 2694.7,368.6 2696.0,367.5C2697.3,366.5 2698.7,365.6 2700.0,364.8C2701.3,364.0 2702.7,363.3 2704.0,362.7C2705.3,362.1 2706.7,361.7 2708.0,361.3C2709.3,360.8 2710.7,360.5 2712.0,360.2C2713.3,359.8 2714.7,359.6 2716.0,359.3C2717.3,359.0 2718.7,358.7 2720.0,358.3C2721.3,358.0 2722.7,357.6 2724.0,357.1C2725.3,356.7 2726.7,356.2 2728.0,355.7C2729.3,355.1 2730.7,354.5 2732.0,353.8C2733.3,353.2 2734.7,352.4 2736.0,351.7C2737.3,350.9 2738.7,350.1 2740.0,349.2C2741.3,348.4 2742.7,347.5 2744.0,346.5C2745.3,345.6 2746.7,344.7 2748.0,343.7C2749.3,342.7 2750.7,341.7 2752.0,340.6C2753.3,339.6 2754.7,338.5 2756.0,337.4C2757.3,336.3 2758.7,335.2 2760.0,334.1C2761.3,332.9 2762.7,331.7 2764.0,330.5C2765.3,329.3 2766.7,328.1 2768.0,326.8C2769.3,325.5 2770.7,324.2 2772.0,322.9C2773.3,321.6 2774.7,320.2 2776.0,318.8C2777.3,317.5 2778.7,316.0 2780.0,314.6C2781.3,313.1 2782.7,311.7 2784.0,310.2C2785.3,308.6 2786.7,307.1 2788.0,305.5C2789.3,303.9 2790.7,302.2 2792.0,300.6C2793.3,298.9 2794.7,297.2 2796.0,295.5C2797.3,293.8 2798.7,292.0 2800.0,290.3C2801.3,288.5 2802.7,286.8 2804.0,285.0C2805.3,283.2 2807.3,280.6 2808.0,279.7" fill="none" stroke="#82552c" stroke-width="9.3" stroke-linejoin="round" stroke-linecap="round"/></g>
<g clip-path="url(#clipC)"><polyline points="221.7,782.0 234.9,767.5 250.0,758.6 259.5,762.4 265.1,770.7 281.2,766.9 296.7,772.2 312.4,757.5 336.9,765.0 337.5,773.1 342.9,784.5 368.1,768.8 379.0,755.2 400.2,759.9 409.2,784.5 431.3,723.5 440.8,771.2 456.8,777.8 481.4,800.5 487.0,787.3 507.4,780.7 522.9,786.3 544.0,780.7 549.0,787.7 574.8,762.7 594.6,777.5 615.4,766.9 620.7,779.7 646.6,765.0 661.7,777.1 677.9,764.2 697.8,766.1 692.1,784.5 703.4,793.9 714.8,779.4 729.3,744.2 739.3,764.2 775.2,750.5 812.0,741.0 821.4,761.8 827.1,766.1 847.3,757.5 863.0,768.0 903.6,751.4 930.0,751.4 940.4,773.1 955.5,778.8 986.7,774.4 991.8,762.7 1013.1,768.4 1027.3,786.3 1053.7,778.8 1077.3,747.6 1079.6,743.9 1080.2,732.4 1085.1,729.2 1089.4,748.2 1097.0,668.0 1100.3,762.4 1112.3,641.3 1112.1,734.1 1155.3,553.1 1159.7,609.7 1170.0,595.0 1172.2,727.5 1183.6,693.8 1188.5,749.3 1209.2,728.1 1201.6,772.2 1214.7,777.6 1223.4,740.6 1234.3,743.9 1239.7,728.1 1244.1,748.8 1251.7,703.0 1263.7,758.0 1290.9,774.4 1296.9,718.8 1321.4,751.5 1342.7,738.5 1357.8,756.1 1378.5,741.8 1394.0,758.4 1415.4,707.8 1439.9,744.2 1445.6,710.2 1465.8,772.5 1482.8,692.3 1490.9,767.8 1527.7,735.7 1553.2,744.2 1569.3,726.3 1574.0,734.8 1606.1,686.6 1625.5,763.1 1661.8,704.6 1667.4,713.1 1682.5,695.1 1704.3,707.4 1736.9,556.7 1760.0,720.6 1775.5,705.9 1784.9,730.1 1796.3,709.4 1810.5,751.9 1841.5,736.6 1842.6,680.0 1843.2,675.7 1865.5,609.3 1871.5,758.4 1888.4,712.7 1898.7,748.1 1948.6,572.2 1949.9,706.1 1959.7,738.8 1970.6,723.6 1975.5,769.3 1983.2,603.8 1988.0,614.7 1993.5,590.2 1997.9,631.0 2004.2,583.1 2021.8,766.6 2028.4,667.0 2044.0,652.3 2046.5,714.0 2052.5,732.5 2063.4,696.0 2062.9,755.4 2069.4,732.5 2078.1,749.9 2085.2,674.1 2094.5,720.7 2106.4,637.0 2124.4,762.4 2130.4,742.0 2147.8,731.9 2156.6,674.1 2160.9,707.8 2172.4,683.9 2165.3,745.0 2182.7,688.8 2192.0,761.9 2212.7,718.3 2217.6,737.4 2229.0,718.8 2231.2,836.0 2238.8,730.8 2243.2,790.2 2254.6,705.0 2269.3,749.4 2286.4,634.3 2299.8,786.6 2310.8,739.4 2325.9,746.0 2341.0,773.4 2347.6,675.2 2368.4,665.7 2389.1,676.7 2389.1,705.4 2393.5,711.1 2393.5,726.2 2423.1,736.6 2433.5,736.6 2450.1,696.0 2481.1,736.6 2496.8,722.4 2522.3,713.9 2537.4,722.0 2552.5,718.6 2573.6,730.9 2594.0,720.1 2615.2,727.1 2625.7,681.8 2651.0,702.6 2658.2,591.2 2672.9,666.7 2683.1,631.4 2693.1,673.3 2696.0,700.7 2722.8,730.9 2748.9,718.6 2770.0,700.7 2780.2,678.7 2795.3,682.2 2806.9,655.5" fill="none" stroke="#8b3824" stroke-width="9.2" stroke-linejoin="round" stroke-linecap="round"/></g>
<g clip-path="url(#clipD)"><polyline points="224.0,1115.3 246.8,1115.3 246.8,1085.4 268.5,1085.4 268.5,1145.3 332.6,1145.3 332.6,1115.3 355.6,1115.3 355.6,1085.4 378.6,1085.4 378.6,1145.3 400.7,1145.3 400.7,1085.4 423.7,1085.4 423.7,1145.3 506.7,1145.3 506.7,1115.3 529.5,1115.3 529.5,1145.3 574.8,1145.3 574.8,1115.3 597.6,1115.3 597.6,1145.3 619.6,1145.3 619.6,1115.3 661.0,1115.3 661.0,1145.3 747.8,1145.3 747.8,1115.3 770.8,1115.3 770.8,1025.5 793.1,1025.5 793.1,1085.4 812.3,1085.4 812.3,1115.3 835.2,1115.3 835.2,1145.3 857.6,1145.3 857.6,1115.3 898.3,1115.3 898.3,1085.4 925.7,1085.4 925.7,1115.3 944.0,1115.3 944.0,1145.3 970.1,1145.3 970.1,1085.4 989.2,1085.4 989.2,1055.5 1034.5,1055.5 1034.5,995.5 1061.6,995.5 1061.6,1055.5 1080.3,1055.5 1080.3,995.5 1102.7,995.5 1102.7,1025.5 1125.7,1025.5 1125.7,1055.5 1148.4,1055.5 1148.4,1085.4 1172.2,1085.4 1172.2,1025.5 1193.7,1025.5 1193.7,1085.4 1231.9,1085.4 1231.9,1115.3 1299.6,1115.3 1299.6,1145.3 1321.8,1145.3 1321.8,1055.5 1348.4,1055.5 1348.4,1085.4 1370.2,1085.4 1370.2,1115.3 1389.5,1115.3 1389.5,1145.3 1412.5,1145.3 1412.5,1085.4 1435.2,1085.4 1435.2,1145.3 1635.6,1145.3 1635.6,1115.3 1657.5,1115.3 1657.5,1085.4 1698.5,1085.4 1698.5,1055.5 1722.0,1055.5 1722.0,1115.3 1745.0,1115.3 1745.0,1085.4 1762.7,1085.4 1762.7,1025.5 1785.1,1025.5 1785.1,1055.5 1808.9,1055.5 1808.9,1025.5 1831.4,1025.5 1831.4,1115.3 1850.6,1115.3 1850.6,1025.5 1873.1,1025.5 1873.1,1085.4 1910.6,1085.4 1910.6,1115.3 1960.0,1115.3 1960.0,995.5 1982.4,995.5 1982.4,1025.5 2005.1,1025.5 2005.1,965.6 2027.7,965.6 2027.7,995.5 2046.4,995.5 2046.4,1055.5 2068.8,1055.5 2068.8,1025.5 2092.2,1025.5 2092.2,1055.5 2129.4,1055.5 2129.4,995.5 2156.2,995.5 2156.2,1025.5 2178.1,1025.5 2178.1,1085.4 2325.2,1085.4 2325.2,1055.5 2352.0,1055.5 2352.0,1115.3 2371.0,1115.3 2371.0,1085.4 2389.5,1085.4 2389.5,1115.3 2412.8,1115.3 2412.8,1055.5 2435.3,1055.5 2435.3,1115.3 2458.2,1115.3 2458.2,1055.5 2476.7,1055.5 2476.7,875.8 2499.6,875.8 2499.6,935.6 2522.4,935.6 2522.4,1025.5 2540.5,1025.5 2540.5,1145.3 2559.9,1145.3 2559.9,1085.4 2578.7,1085.4 2578.7,1115.3 2597.2,1115.3 2597.2,1085.4 2620.5,1085.4 2620.5,1025.5 2642.3,1025.5 2642.3,1115.3 2657.5,1115.3 2657.5,1145.3" fill="none" stroke="#3f8838" stroke-width="8.7" stroke-linejoin="round" stroke-linecap="butt"/></g>
<g clip-path="url(#clipE)"><path d="M212.0,1446.5C213.0,1446.5 216.0,1446.4 218.0,1446.4C220.0,1446.4 222.0,1446.3 224.0,1446.3C226.0,1446.2 228.0,1446.2 230.0,1446.2C232.0,1446.1 234.0,1446.1 236.0,1446.0C238.0,1446.0 240.0,1445.9 242.0,1445.8C244.0,1445.7 246.0,1445.7 248.0,1445.6C250.0,1445.5 252.0,1445.4 254.0,1445.3C256.0,1445.2 258.0,1445.1 260.0,1445.0C262.0,1444.8 264.0,1444.7 266.0,1444.6C268.0,1444.5 270.0,1444.4 272.0,1444.3C274.0,1444.2 276.0,1444.1 278.0,1444.0C280.0,1443.9 282.0,1443.7 284.0,1443.6C286.0,1443.5 288.0,1443.4 290.0,1443.3C292.0,1443.1 294.0,1443.0 296.0,1442.9C298.0,1442.8 300.0,1442.6 302.0,1442.5C304.0,1442.3 306.0,1442.2 308.0,1442.0C310.0,1441.8 312.0,1441.7 314.0,1441.5C316.0,1441.4 318.0,1441.2 320.0,1441.0C322.0,1440.8 324.0,1440.6 326.0,1440.4C328.0,1440.2 330.0,1439.9 332.0,1439.6C334.0,1439.3 336.0,1439.0 338.0,1438.6C340.0,1438.3 342.0,1437.9 344.0,1437.5C346.0,1437.2 348.0,1436.8 350.0,1436.4C352.0,1436.0 354.0,1435.6 356.0,1435.2C358.0,1434.8 360.0,1434.5 362.0,1434.0C364.0,1433.6 366.0,1433.2 368.0,1432.8C370.0,1432.4 372.0,1431.9 374.0,1431.5C376.0,1431.0 378.0,1430.6 380.0,1430.1C382.0,1429.7 384.0,1429.2 386.0,1428.8C388.0,1428.3 390.0,1427.8 392.0,1427.4C394.0,1426.9 396.0,1426.4 398.0,1425.8C400.0,1425.3 402.0,1424.8 404.0,1424.2C406.0,1423.6 408.0,1423.1 410.0,1422.5C412.0,1421.9 414.0,1421.3 416.0,1420.7C418.0,1420.1 420.0,1419.5 422.0,1418.9C424.0,1418.3 426.0,1417.7 428.0,1417.1C430.0,1416.6 432.0,1416.0 434.0,1415.4C436.0,1414.8 438.0,1414.3 440.0,1413.7C442.0,1413.2 444.0,1412.6 446.0,1412.1C448.0,1411.5 450.0,1411.0 452.0,1410.4C454.0,1409.9 456.0,1409.3 458.0,1408.8C460.0,1408.2 462.0,1407.7 464.0,1407.2C466.0,1406.6 468.0,1406.1 470.0,1405.6C472.0,1405.1 474.0,1404.6 476.0,1404.0C478.0,1403.5 480.0,1403.0 482.0,1402.5C484.0,1402.0 486.0,1401.5 488.0,1401.0C490.0,1400.5 492.0,1400.0 494.0,1399.6C496.0,1399.1 498.0,1398.7 500.0,1398.2C502.0,1397.8 504.0,1397.4 506.0,1397.1C508.0,1396.7 510.0,1396.4 512.0,1396.1C514.0,1395.8 516.0,1395.6 518.0,1395.4C520.0,1395.2 522.0,1395.1 524.0,1395.0C526.0,1394.9 528.0,1394.9 530.0,1394.9C532.0,1394.9 534.0,1394.9 536.0,1395.0C538.0,1395.0 540.0,1395.1 542.0,1395.3C544.0,1395.4 546.0,1395.6 548.0,1395.8C550.0,1396.0 552.0,1396.2 554.0,1396.5C556.0,1396.7 558.0,1397.0 560.0,1397.3C562.0,1397.7 564.0,1398.0 566.0,1398.4C568.0,1398.8 570.0,1399.2 572.0,1399.6C574.0,1400.1 576.0,1400.6 578.0,1401.1C580.0,1401.6 582.0,1402.1 584.0,1402.7C586.0,1403.2 588.0,1403.8 590.0,1404.4C592.0,1404.9 594.0,1405.5 596.0,1406.1C598.0,1406.7 600.0,1407.3 602.0,1407.9C604.0,1408.5 606.0,1409.1 608.0,1409.7C610.0,1410.3 612.0,1410.9 614.0,1411.5C616.0,1412.1 618.0,1412.8 620.0,1413.4C622.0,1414.0 624.0,1414.6 626.0,1415.2C628.0,1415.8 630.0,1416.4 632.0,1417.0C634.0,1417.6 636.0,1418.2 638.0,1418.8C640.0,1419.4 642.0,1420.0 644.0,1420.6C646.0,1421.2 648.0,1421.7 650.0,1422.3C652.0,1422.9 654.0,1423.5 656.0,1424.1C658.0,1424.7 660.0,1425.3 662.0,1425.9C664.0,1426.5 666.0,1427.1 668.0,1427.8C670.0,1428.4 672.0,1429.0 674.0,1429.6C676.0,1430.2 678.0,1430.8 680.0,1431.4C682.0,1432.0 684.0,1432.5 686.0,1433.1C688.0,1433.6 690.0,1434.2 692.0,1434.7C694.0,1435.2 696.0,1435.7 698.0,1436.1C700.0,1436.6 702.0,1437.0 704.0,1437.4C706.0,1437.8 708.0,1438.2 710.0,1438.6C712.0,1439.0 714.0,1439.3 716.0,1439.7C718.0,1440.0 720.0,1440.3 722.0,1440.6C724.0,1440.9 726.0,1441.1 728.0,1441.4C730.0,1441.6 732.0,1441.9 734.0,1442.1C736.0,1442.3 738.0,1442.4 740.0,1442.6C742.0,1442.8 744.0,1442.9 746.0,1443.0C748.0,1443.2 750.0,1443.3 752.0,1443.5C754.0,1443.6 756.0,1443.7 758.0,1443.9C760.0,1444.0 762.0,1444.1 764.0,1444.2C766.0,1444.4 768.0,1444.5 770.0,1444.6C772.0,1444.7 774.0,1444.8 776.0,1444.9C778.0,1445.0 780.0,1445.0 782.0,1445.1C784.0,1445.2 786.0,1445.3 788.0,1445.4C790.0,1445.4 792.0,1445.5 794.0,1445.6C796.0,1445.7 798.0,1445.7 800.0,1445.8C802.0,1445.9 804.0,1445.9 806.0,1446.0C808.0,1446.1 810.0,1446.1 812.0,1446.2C814.0,1446.2 816.0,1446.2 818.0,1446.3C820.0,1446.3 822.0,1446.4 824.0,1446.4C826.0,1446.4 828.0,1446.5 830.0,1446.5C832.0,1446.6 834.0,1446.6 836.0,1446.6C838.0,1446.7 840.0,1446.7 842.0,1446.7C844.0,1446.8 846.0,1446.8 848.0,1446.8C850.0,1446.8 852.0,1446.9 854.0,1446.8C856.0,1446.8 858.0,1446.8 860.0,1446.8C862.0,1446.8 864.0,1446.7 866.0,1446.6C868.0,1446.6 870.0,1446.5 872.0,1446.5C874.0,1446.4 876.0,1446.4 878.0,1446.3C880.0,1446.2 882.0,1446.2 884.0,1446.1C886.0,1446.1 888.0,1446.0 890.0,1445.9C892.0,1445.9 894.0,1445.8 896.0,1445.7C898.0,1445.6 900.0,1445.6 902.0,1445.5C904.0,1445.4 906.0,1445.3 908.0,1445.2C910.0,1445.1 912.0,1444.9 914.0,1444.8C916.0,1444.7 918.0,1444.6 920.0,1444.5C922.0,1444.4 924.0,1444.2 926.0,1444.1C928.0,1444.0 930.0,1443.9 932.0,1443.7C934.0,1443.6 936.0,1443.5 938.0,1443.3C940.0,1443.2 942.0,1443.0 944.0,1442.8C946.0,1442.7 948.0,1442.5 950.0,1442.3C952.0,1442.1 954.0,1441.9 956.0,1441.8C958.0,1441.6 960.0,1441.4 962.0,1441.2C964.0,1441.0 966.0,1440.8 968.0,1440.6C970.0,1440.4 972.0,1440.1 974.0,1439.9C976.0,1439.6 978.0,1439.3 980.0,1438.9C982.0,1438.6 984.0,1438.2 986.0,1437.8C988.0,1437.5 990.0,1437.1 992.0,1436.7C994.0,1436.3 996.0,1435.8 998.0,1435.4C1000.0,1435.0 1002.0,1434.6 1004.0,1434.1C1006.0,1433.7 1008.0,1433.2 1010.0,1432.8C1012.0,1432.3 1014.0,1431.8 1016.0,1431.3C1018.0,1430.9 1020.0,1430.4 1022.0,1429.9C1024.0,1429.4 1026.0,1428.8 1028.0,1428.3C1030.0,1427.8 1032.0,1427.2 1034.0,1426.7C1036.0,1426.1 1038.0,1425.5 1040.0,1424.9C1042.0,1424.3 1044.0,1423.7 1046.0,1423.1C1048.0,1422.4 1050.0,1421.8 1052.0,1421.1C1054.0,1420.4 1056.0,1419.7 1058.0,1418.9C1060.0,1418.2 1062.0,1417.5 1064.0,1416.7C1066.0,1415.9 1068.0,1415.1 1070.0,1414.2C1072.0,1413.3 1074.0,1412.5 1076.0,1411.5C1078.0,1410.6 1080.0,1409.6 1082.0,1408.6C1084.0,1407.7 1086.0,1406.6 1088.0,1405.6C1090.0,1404.5 1092.0,1403.3 1094.0,1402.1C1096.0,1401.0 1098.0,1399.7 1100.0,1398.4C1102.0,1397.1 1104.0,1395.7 1106.0,1394.4C1108.0,1393.0 1110.0,1391.6 1112.0,1390.3C1114.0,1388.9 1116.0,1387.6 1118.0,1386.2C1120.0,1384.8 1122.0,1383.5 1124.0,1382.1C1126.0,1380.7 1128.0,1379.3 1130.0,1377.9C1132.0,1376.4 1134.0,1374.9 1136.0,1373.3C1138.0,1371.7 1140.0,1370.0 1142.0,1368.3C1144.0,1366.6 1146.0,1364.8 1148.0,1363.0C1150.0,1361.2 1152.0,1359.4 1154.0,1357.6C1156.0,1355.8 1158.0,1354.0 1160.0,1352.1C1162.0,1350.3 1164.0,1348.5 1166.0,1346.6C1168.0,1344.8 1170.0,1342.9 1172.0,1341.0C1174.0,1339.2 1176.0,1337.3 1178.0,1335.3C1180.0,1333.4 1182.0,1331.4 1184.0,1329.4C1186.0,1327.3 1188.0,1325.3 1190.0,1323.2C1192.0,1321.2 1194.0,1319.1 1196.0,1317.1C1198.0,1315.0 1200.0,1313.0 1202.0,1311.0C1204.0,1309.0 1206.0,1307.1 1208.0,1305.2C1210.0,1303.2 1212.0,1301.3 1214.0,1299.4C1216.0,1297.5 1218.0,1295.6 1220.0,1293.6C1222.0,1291.6 1224.0,1289.6 1226.0,1287.6C1228.0,1285.6 1230.0,1283.5 1232.0,1281.5C1234.0,1279.4 1236.0,1277.4 1238.0,1275.3C1240.0,1273.3 1242.0,1271.2 1244.0,1269.1C1246.0,1267.1 1248.0,1265.0 1250.0,1263.0C1252.0,1261.0 1254.0,1259.0 1256.0,1257.1C1258.0,1255.2 1260.0,1253.4 1262.0,1251.7C1264.0,1249.9 1266.0,1248.3 1268.0,1246.8C1270.0,1245.2 1272.0,1243.8 1274.0,1242.4C1276.0,1241.0 1278.0,1239.7 1280.0,1238.4C1282.0,1237.2 1284.0,1236.0 1286.0,1234.9C1288.0,1233.9 1290.0,1232.8 1292.0,1231.9C1294.0,1231.0 1296.0,1230.1 1298.0,1229.3C1300.0,1228.5 1302.0,1227.8 1304.0,1227.3C1306.0,1226.7 1308.0,1226.2 1310.0,1225.8C1312.0,1225.4 1314.0,1225.1 1316.0,1225.0C1318.0,1224.8 1320.0,1224.8 1322.0,1224.9C1324.0,1225.0 1326.0,1225.2 1328.0,1225.5C1330.0,1225.9 1332.0,1226.3 1334.0,1226.9C1336.0,1227.5 1338.0,1228.2 1340.0,1229.1C1342.0,1229.9 1344.0,1230.8 1346.0,1231.9C1348.0,1233.0 1350.0,1234.2 1352.0,1235.6C1354.0,1236.9 1356.0,1238.4 1358.0,1240.0C1360.0,1241.6 1362.0,1243.3 1364.0,1245.0C1366.0,1246.7 1368.0,1248.4 1370.0,1250.2C1372.0,1251.9 1374.0,1253.7 1376.0,1255.5C1378.0,1257.4 1380.0,1259.2 1382.0,1261.2C1384.0,1263.1 1386.0,1265.1 1388.0,1267.2C1390.0,1269.2 1392.0,1271.4 1394.0,1273.5C1396.0,1275.6 1398.0,1277.8 1400.0,1280.0C1402.0,1282.2 1404.0,1284.4 1406.0,1286.6C1408.0,1288.9 1410.0,1291.1 1412.0,1293.3C1414.0,1295.6 1416.0,1297.9 1418.0,1300.1C1420.0,1302.4 1422.0,1304.7 1424.0,1307.1C1426.0,1309.4 1428.0,1311.7 1430.0,1314.1C1432.0,1316.4 1434.0,1318.8 1436.0,1321.1C1438.0,1323.5 1440.0,1325.8 1442.0,1328.2C1444.0,1330.6 1446.0,1332.9 1448.0,1335.3C1450.0,1337.7 1452.0,1340.1 1454.0,1342.5C1456.0,1344.9 1458.0,1347.3 1460.0,1349.6C1462.0,1351.9 1464.0,1354.3 1466.0,1356.5C1468.0,1358.7 1470.0,1360.8 1472.0,1362.7C1474.0,1364.7 1476.0,1366.4 1478.0,1368.1C1480.0,1369.7 1482.0,1371.1 1484.0,1372.6C1486.0,1374.0 1488.0,1375.3 1490.0,1376.5C1492.0,1377.8 1494.0,1379.0 1496.0,1380.2C1498.0,1381.3 1500.0,1382.4 1502.0,1383.5C1504.0,1384.6 1506.0,1385.6 1508.0,1386.6C1510.0,1387.5 1512.0,1388.5 1514.0,1389.4C1516.0,1390.2 1518.0,1391.0 1520.0,1391.8C1522.0,1392.5 1524.0,1393.1 1526.0,1393.7C1528.0,1394.2 1530.0,1394.7 1532.0,1395.2C1534.0,1395.7 1536.0,1396.1 1538.0,1396.6C1540.0,1397.0 1542.0,1397.4 1544.0,1397.7C1546.0,1398.0 1548.0,1398.3 1550.0,1398.5C1552.0,1398.6 1554.0,1398.7 1556.0,1398.6C1558.0,1398.6 1560.0,1398.4 1562.0,1398.3C1564.0,1398.1 1566.0,1397.9 1568.0,1397.6C1570.0,1397.4 1572.0,1397.1 1574.0,1396.8C1576.0,1396.5 1578.0,1396.1 1580.0,1395.7C1582.0,1395.3 1584.0,1394.8 1586.0,1394.3C1588.0,1393.7 1590.0,1393.1 1592.0,1392.4C1594.0,1391.7 1596.0,1391.0 1598.0,1390.3C1600.0,1389.5 1602.0,1388.8 1604.0,1388.0C1606.0,1387.3 1608.0,1386.5 1610.0,1385.8C1612.0,1385.0 1614.0,1384.2 1616.0,1383.4C1618.0,1382.6 1620.0,1381.8 1622.0,1381.0C1624.0,1380.2 1626.0,1379.3 1628.0,1378.5C1630.0,1377.6 1632.0,1376.8 1634.0,1375.9C1636.0,1375.0 1638.0,1374.0 1640.0,1373.0C1642.0,1372.0 1644.0,1371.0 1646.0,1369.9C1648.0,1368.8 1650.0,1367.6 1652.0,1366.4C1654.0,1365.3 1656.0,1364.1 1658.0,1362.8C1660.0,1361.6 1662.0,1360.4 1664.0,1359.1C1666.0,1357.9 1668.0,1356.7 1670.0,1355.5C1672.0,1354.3 1674.0,1353.1 1676.0,1352.0C1678.0,1350.8 1680.0,1349.8 1682.0,1348.7C1684.0,1347.6 1686.0,1346.6 1688.0,1345.6C1690.0,1344.7 1692.0,1343.7 1694.0,1342.8C1696.0,1341.9 1698.0,1341.0 1700.0,1340.2C1702.0,1339.4 1704.0,1338.6 1706.0,1337.8C1708.0,1337.1 1710.0,1336.4 1712.0,1335.7C1714.0,1335.0 1716.0,1334.4 1718.0,1333.8C1720.0,1333.2 1722.0,1332.7 1724.0,1332.1C1726.0,1331.6 1728.0,1331.1 1730.0,1330.7C1732.0,1330.2 1734.0,1329.8 1736.0,1329.4C1738.0,1329.0 1740.0,1328.6 1742.0,1328.3C1744.0,1327.9 1746.0,1327.6 1748.0,1327.4C1750.0,1327.1 1752.0,1326.8 1754.0,1326.6C1756.0,1326.4 1758.0,1326.2 1760.0,1326.0C1762.0,1325.9 1764.0,1325.7 1766.0,1325.6C1768.0,1325.5 1770.0,1325.4 1772.0,1325.4C1774.0,1325.3 1776.0,1325.3 1778.0,1325.4C1780.0,1325.4 1782.0,1325.5 1784.0,1325.6C1786.0,1325.7 1788.0,1325.8 1790.0,1326.0C1792.0,1326.2 1794.0,1326.5 1796.0,1326.8C1798.0,1327.1 1800.0,1327.4 1802.0,1327.8C1804.0,1328.2 1806.0,1328.6 1808.0,1329.1C1810.0,1329.6 1812.0,1330.1 1814.0,1330.7C1816.0,1331.2 1818.0,1331.8 1820.0,1332.5C1822.0,1333.1 1824.0,1333.8 1826.0,1334.5C1828.0,1335.3 1830.0,1336.0 1832.0,1336.8C1834.0,1337.7 1836.0,1338.5 1838.0,1339.4C1840.0,1340.2 1842.0,1341.1 1844.0,1342.0C1846.0,1343.0 1848.0,1343.9 1850.0,1344.9C1852.0,1345.8 1854.0,1346.8 1856.0,1347.8C1858.0,1348.9 1860.0,1349.9 1862.0,1351.0C1864.0,1352.0 1866.0,1353.1 1868.0,1354.3C1870.0,1355.4 1872.0,1356.5 1874.0,1357.7C1876.0,1358.8 1878.0,1360.0 1880.0,1361.2C1882.0,1362.3 1884.0,1363.5 1886.0,1364.7C1888.0,1365.9 1890.0,1367.1 1892.0,1368.3C1894.0,1369.5 1896.0,1370.7 1898.0,1371.9C1900.0,1373.0 1902.0,1374.2 1904.0,1375.3C1906.0,1376.5 1908.0,1377.6 1910.0,1378.7C1912.0,1379.8 1914.0,1380.9 1916.0,1382.0C1918.0,1383.0 1920.0,1384.0 1922.0,1385.1C1924.0,1386.1 1926.0,1387.1 1928.0,1388.0C1930.0,1389.0 1932.0,1389.9 1934.0,1390.8C1936.0,1391.7 1938.0,1392.6 1940.0,1393.5C1942.0,1394.3 1944.0,1395.2 1946.0,1396.0C1948.0,1396.8 1950.0,1397.5 1952.0,1398.3C1954.0,1399.0 1956.0,1399.8 1958.0,1400.5C1960.0,1401.1 1962.0,1401.8 1964.0,1402.4C1966.0,1403.1 1968.0,1403.6 1970.0,1404.2C1972.0,1404.7 1974.0,1405.2 1976.0,1405.7C1978.0,1406.2 1980.0,1406.6 1982.0,1407.0C1984.0,1407.3 1986.0,1407.6 1988.0,1407.9C1990.0,1408.2 1992.0,1408.4 1994.0,1408.6C1996.0,1408.7 1998.0,1408.9 2000.0,1409.0C2002.0,1409.1 2004.0,1409.1 2006.0,1409.1C2008.0,1409.1 2010.0,1409.1 2012.0,1409.0C2014.0,1409.0 2016.0,1408.9 2018.0,1408.7C2020.0,1408.6 2022.0,1408.4 2024.0,1408.2C2026.0,1408.0 2028.0,1407.8 2030.0,1407.5C2032.0,1407.2 2034.0,1406.9 2036.0,1406.6C2038.0,1406.3 2040.0,1406.0 2042.0,1405.7C2044.0,1405.3 2046.0,1405.0 2048.0,1404.6C2050.0,1404.2 2052.0,1403.8 2054.0,1403.4C2056.0,1403.0 2058.0,1402.6 2060.0,1402.2C2062.0,1401.7 2064.0,1401.3 2066.0,1400.9C2068.0,1400.5 2070.0,1400.0 2072.0,1399.6C2074.0,1399.2 2076.0,1398.8 2078.0,1398.4C2080.0,1398.1 2082.0,1397.7 2084.0,1397.4C2086.0,1397.0 2088.0,1396.7 2090.0,1396.4C2092.0,1396.1 2094.0,1395.8 2096.0,1395.6C2098.0,1395.3 2100.0,1395.1 2102.0,1394.9C2104.0,1394.7 2106.0,1394.5 2108.0,1394.3C2110.0,1394.2 2112.0,1394.0 2114.0,1393.9C2116.0,1393.8 2118.0,1393.7 2120.0,1393.7C2122.0,1393.6 2124.0,1393.6 2126.0,1393.5C2128.0,1393.5 2130.0,1393.5 2132.0,1393.6C2134.0,1393.6 2136.0,1393.6 2138.0,1393.7C2140.0,1393.8 2142.0,1393.9 2144.0,1394.1C2146.0,1394.2 2148.0,1394.5 2150.0,1394.7C2152.0,1394.9 2154.0,1395.2 2156.0,1395.5C2158.0,1395.8 2160.0,1396.1 2162.0,1396.4C2164.0,1396.8 2166.0,1397.1 2168.0,1397.5C2170.0,1397.9 2172.0,1398.2 2174.0,1398.7C2176.0,1399.1 2178.0,1399.6 2180.0,1400.1C2182.0,1400.6 2184.0,1401.1 2186.0,1401.7C2188.0,1402.2 2190.0,1402.8 2192.0,1403.4C2194.0,1404.0 2196.0,1404.6 2198.0,1405.2C2200.0,1405.8 2202.0,1406.4 2204.0,1407.0C2206.0,1407.7 2208.0,1408.3 2210.0,1409.0C2212.0,1409.7 2214.0,1410.3 2216.0,1411.0C2218.0,1411.7 2220.0,1412.4 2222.0,1413.1C2224.0,1413.7 2226.0,1414.4 2228.0,1415.1C2230.0,1415.7 2232.0,1416.4 2234.0,1417.1C2236.0,1417.7 2238.0,1418.4 2240.0,1419.0C2242.0,1419.7 2244.0,1420.3 2246.0,1421.0C2248.0,1421.6 2250.0,1422.3 2252.0,1423.0C2254.0,1423.6 2256.0,1424.3 2258.0,1425.0C2260.0,1425.6 2262.0,1426.3 2264.0,1426.9C2266.0,1427.6 2268.0,1428.2 2270.0,1428.8C2272.0,1429.4 2274.0,1430.0 2276.0,1430.5C2278.0,1431.1 2280.0,1431.6 2282.0,1432.2C2284.0,1432.7 2286.0,1433.2 2288.0,1433.7C2290.0,1434.1 2292.0,1434.6 2294.0,1435.0C2296.0,1435.5 2298.0,1435.9 2300.0,1436.3C2302.0,1436.7 2304.0,1437.1 2306.0,1437.5C2308.0,1437.9 2310.0,1438.2 2312.0,1438.6C2314.0,1438.9 2316.0,1439.2 2318.0,1439.5C2320.0,1439.8 2322.0,1440.1 2324.0,1440.3C2326.0,1440.6 2328.0,1440.8 2330.0,1441.1C2332.0,1441.3 2334.0,1441.5 2336.0,1441.7C2338.0,1441.8 2340.0,1442.0 2342.0,1442.2C2344.0,1442.3 2346.0,1442.5 2348.0,1442.6C2350.0,1442.8 2352.0,1442.9 2354.0,1443.1C2356.0,1443.2 2358.0,1443.4 2360.0,1443.5C2362.0,1443.6 2364.0,1443.7 2366.0,1443.9C2368.0,1444.0 2370.0,1444.1 2372.0,1444.2C2374.0,1444.3 2376.0,1444.4 2378.0,1444.5C2380.0,1444.6 2382.0,1444.7 2384.0,1444.8C2386.0,1444.9 2388.0,1444.9 2390.0,1445.0C2392.0,1445.1 2394.0,1445.2 2396.0,1445.2C2398.0,1445.3 2400.0,1445.3 2402.0,1445.4C2404.0,1445.5 2406.0,1445.5 2408.0,1445.6C2410.0,1445.6 2412.0,1445.6 2414.0,1445.7C2416.0,1445.7 2418.0,1445.8 2420.0,1445.8C2422.0,1445.9 2424.0,1445.9 2426.0,1446.0C2428.0,1446.0 2430.0,1446.1 2432.0,1446.1C2434.0,1446.1 2436.0,1446.2 2438.0,1446.2C2440.0,1446.2 2442.0,1446.2 2444.0,1446.3C2446.0,1446.3 2448.0,1446.3 2450.0,1446.3C2452.0,1446.3 2454.0,1446.3 2456.0,1446.3C2458.0,1446.3 2460.0,1446.3 2462.0,1446.3C2464.0,1446.3 2466.0,1446.3 2468.0,1446.3C2470.0,1446.3 2472.0,1446.3 2474.0,1446.3C2476.0,1446.3 2478.0,1446.3 2480.0,1446.3C2482.0,1446.3 2484.0,1446.3 2486.0,1446.3C2488.0,1446.3 2490.0,1446.3 2492.0,1446.3C2494.0,1446.3 2496.0,1446.3 2498.0,1446.3C2500.0,1446.3 2502.0,1446.3 2504.0,1446.3C2506.0,1446.3 2508.0,1446.3 2510.0,1446.3C2512.0,1446.3 2514.0,1446.3 2516.0,1446.3C2518.0,1446.3 2520.0,1446.3 2522.0,1446.3C2524.0,1446.3 2526.0,1446.3 2528.0,1446.3C2530.0,1446.3 2532.0,1446.3 2534.0,1446.4C2536.0,1446.4 2538.0,1446.4 2540.0,1446.4C2542.0,1446.4 2544.0,1446.4 2546.0,1446.4C2548.0,1446.4 2550.0,1446.4 2552.0,1446.4C2554.0,1446.4 2556.0,1446.4 2558.0,1446.4C2560.0,1446.4 2562.0,1446.4 2564.0,1446.4C2566.0,1446.4 2568.0,1446.4 2570.0,1446.4C2572.0,1446.4 2574.0,1446.4 2576.0,1446.4C2578.0,1446.4 2580.0,1446.4 2582.0,1446.4C2584.0,1446.4 2586.0,1446.4 2588.0,1446.4C2590.0,1446.4 2592.0,1446.4 2594.0,1446.4C2596.0,1446.4 2598.0,1446.4 2600.0,1446.4C2602.0,1446.4 2604.0,1446.4 2606.0,1446.4C2608.0,1446.4 2610.0,1446.4 2612.0,1446.4C2614.0,1446.4 2616.0,1446.4 2618.0,1446.4C2620.0,1446.4 2622.0,1446.4 2624.0,1446.4C2626.0,1446.4 2628.0,1446.4 2630.0,1446.4C2632.0,1446.4 2634.0,1446.4 2636.0,1446.4C2638.0,1446.4 2640.0,1446.4 2642.0,1446.4C2644.0,1446.4 2646.0,1446.4 2648.0,1446.4C2650.0,1446.4 2652.0,1446.4 2654.0,1446.4C2656.0,1446.4 2658.0,1446.4 2660.0,1446.4C2662.0,1446.4 2664.0,1446.4 2666.0,1446.4C2668.0,1446.4 2670.0,1446.4 2672.0,1446.4C2674.0,1446.4 2676.0,1446.4 2678.0,1446.4C2680.0,1446.4 2682.0,1446.4 2684.0,1446.4C2686.0,1446.4 2688.0,1446.4 2690.0,1446.4C2692.0,1446.4 2694.0,1446.4 2696.0,1446.4C2698.0,1446.4 2700.0,1446.4 2702.0,1446.4C2704.0,1446.4 2706.0,1446.4 2708.0,1446.4C2710.0,1446.4 2712.0,1446.4 2714.0,1446.4C2716.0,1446.4 2718.0,1446.4 2720.0,1446.5C2722.0,1446.5 2724.0,1446.5 2726.0,1446.5C2728.0,1446.5 2730.0,1446.5 2732.0,1446.5C2734.0,1446.5 2736.0,1446.5 2738.0,1446.5C2740.0,1446.5 2742.0,1446.5 2744.0,1446.5C2746.0,1446.5 2748.0,1446.5 2750.0,1446.5C2752.0,1446.5 2754.0,1446.5 2756.0,1446.5C2758.0,1446.5 2760.0,1446.5 2762.0,1446.5C2764.0,1446.5 2766.0,1446.5 2768.0,1446.5C2770.0,1446.5 2772.0,1446.5 2774.0,1446.5C2776.0,1446.5 2778.0,1446.5 2780.0,1446.5C2782.0,1446.5 2784.0,1446.5 2786.0,1446.5C2788.0,1446.5 2790.0,1446.5 2792.0,1446.5C2794.0,1446.5 2796.0,1446.5 2798.0,1446.5C2800.0,1446.5 2802.0,1446.5 2804.0,1446.5C2806.0,1446.5 2809.0,1446.5 2810.0,1446.5" fill="none" stroke="#46b5bc" stroke-width="8.4" stroke-linejoin="round" stroke-linecap="round"/></g>
<rect x="1134.7" y="34.6" width="317.3" height="1407.6" fill="url(#hat)" style="mix-blend-mode:multiply" opacity="1"/>
<rect x="1648.1" y="34.6" width="247.7" height="1403.0" fill="url(#hat)" style="mix-blend-mode:multiply" opacity="1"/>
<line x1="219.9" y1="1365.9" x2="2809" y2="1365.9" stroke="#000" stroke-width="2.6" stroke-dasharray="11.2 10.6"/>
<rect x="2809.0" y="17.2" width="7.8" height="271.7" fill="#000"/>
<rect x="2795.1" y="45.3" width="17.8" height="6.8" fill="#000"/>
<rect x="2795.1" y="110.5" width="17.8" height="6.8" fill="#000"/>
<rect x="2795.1" y="174.3" width="17.8" height="6.8" fill="#000"/>
<rect x="2795.1" y="239.8" width="17.8" height="6.8" fill="#000"/>
<rect x="216.1" y="281.0" width="7.8" height="286.4" fill="#000"/>
<rect x="220.0" y="344.5" width="18.3" height="6.8" fill="#000"/>
<rect x="220.0" y="430.3" width="18.3" height="6.8" fill="#000"/>
<rect x="220.0" y="516.4" width="18.3" height="6.8" fill="#000"/>
<rect x="2808.8" y="542.1" width="7.8" height="290.0" fill="#000"/>
<rect x="2795.3" y="542.2" width="17.4" height="6.8" fill="#000"/>
<rect x="2795.3" y="636.5" width="17.4" height="6.8" fill="#000"/>
<rect x="2795.3" y="729.2" width="17.4" height="6.8" fill="#000"/>
<rect x="2795.3" y="825.3" width="17.4" height="6.8" fill="#000"/>
<rect x="216.1" y="837.9" width="7.8" height="311.3" fill="#000"/>
<rect x="220.0" y="867.2" width="18.3" height="6.8" fill="#000"/>
<rect x="220.0" y="960.1" width="18.3" height="6.8" fill="#000"/>
<rect x="220.0" y="1050.3" width="18.3" height="6.8" fill="#000"/>
<rect x="220.0" y="1142.4" width="18.3" height="6.8" fill="#000"/>
<rect x="2808.8" y="1169.0" width="7.8" height="277.0" fill="#000"/>
<rect x="2795.3" y="1208.6" width="17.4" height="6.8" fill="#000"/>
<rect x="2795.3" y="1286.3" width="17.4" height="6.8" fill="#000"/>
<rect x="2795.3" y="1362.6" width="17.4" height="6.8" fill="#000"/>
<rect x="212.2" y="1442.2" width="2604.4" height="7.7" fill="#000"/>
<rect x="212.2" y="1425.9" width="5.7" height="18" fill="#000"/>
<rect x="646.7" y="1425.9" width="5.6" height="18" fill="#000"/>
<rect x="1078.9" y="1425.9" width="5.6" height="18" fill="#000"/>
<rect x="1511.1" y="1425.9" width="5.6" height="18" fill="#000"/>
<rect x="1943.3" y="1425.9" width="5.6" height="18" fill="#000"/>
<rect x="2375.5" y="1425.9" width="5.6" height="18" fill="#000"/>
<text x="257" y="104" text-anchor="start" style="font-size:64px">A</text>
<text x="257" y="323.8" text-anchor="start" style="font-size:64px">B</text>
<text x="257" y="659" text-anchor="start" style="font-size:64px">C</text>
<text x="257" y="889.6" text-anchor="start" style="font-size:64px">D</text>
<text x="257" y="1279.5" text-anchor="start" style="font-size:64px">E</text>
<text x="2830" y="62.900000000000006" text-anchor="start" >-9</text>
<text x="2830" y="128.1" text-anchor="start" >-12</text>
<text x="2830" y="191.89999999999998" text-anchor="start" >-15</text>
<text x="2830" y="257.4" text-anchor="start" >-18</text>
<text x="203" y="369.9" text-anchor="end" >240</text>
<text x="203" y="455.7" text-anchor="end" >200</text>
<text x="203" y="541.8" text-anchor="end" >160</text>
<text x="2838" y="564.9" text-anchor="start" >12</text>
<text x="2838" y="660.5" text-anchor="start" >8</text>
<text x="2838" y="754.5" text-anchor="start" >4</text>
<text x="2838" y="846.2" text-anchor="start" >0</text>
<text x="198" y="896.5" text-anchor="end" >9</text>
<text x="198" y="986.7" text-anchor="end" >6</text>
<text x="198" y="1077.3" text-anchor="end" >3</text>
<text x="198" y="1166.5" text-anchor="end" >0</text>
<text x="2838" y="1233" text-anchor="start" >30</text>
<text x="2838" y="1310.5" text-anchor="start" >20</text>
<text x="2838" y="1385" text-anchor="start" >10</text>
<text x="2838" y="1462.5" text-anchor="start" >0</text>
<text x="217.8" y="1517" text-anchor="middle" >800</text>
<text x="639.4" y="1517" text-anchor="middle" >1000</text>
<text x="1076.2" y="1517" text-anchor="middle" >1200</text>
<text x="1514.3" y="1517" text-anchor="middle" >1400</text>
<text x="1952.1" y="1517" text-anchor="middle" >1600</text>
<text x="2389.7" y="1517" text-anchor="middle" >1800</text>
<text x="2810.9" y="1517" text-anchor="middle" >2000</text>
<text x="1523" y="1599" text-anchor="middle" ><tspan dy="5.5">年代</tspan><tspan dy="-5.5">(AD)</tspan></text>
<text transform="translate(82.5,433) rotate(-90)" text-anchor="middle" ><tspan dy="5.5">降水量</tspan><tspan dy="-5.5">/mm</tspan></text>
<text transform="translate(133.5,1015) rotate(-90)" text-anchor="middle" >频率</text>
<text transform="translate(2993,1326.5) rotate(-90)" text-anchor="middle" >频率</text>
<text transform="translate(2987,686) rotate(-90)" text-anchor="middle" ><tspan dy="5.5">体积</tspan><tspan dy="-5.5">/%</tspan></text>
<text transform="translate(2984.8,140.6) rotate(-90)" text-anchor="middle" ><tspan font-style="italic">δ</tspan><tspan font-size="38" dy="-20">18</tspan><tspan dy="20">O/‰</tspan></text>
</svg></body></html>
